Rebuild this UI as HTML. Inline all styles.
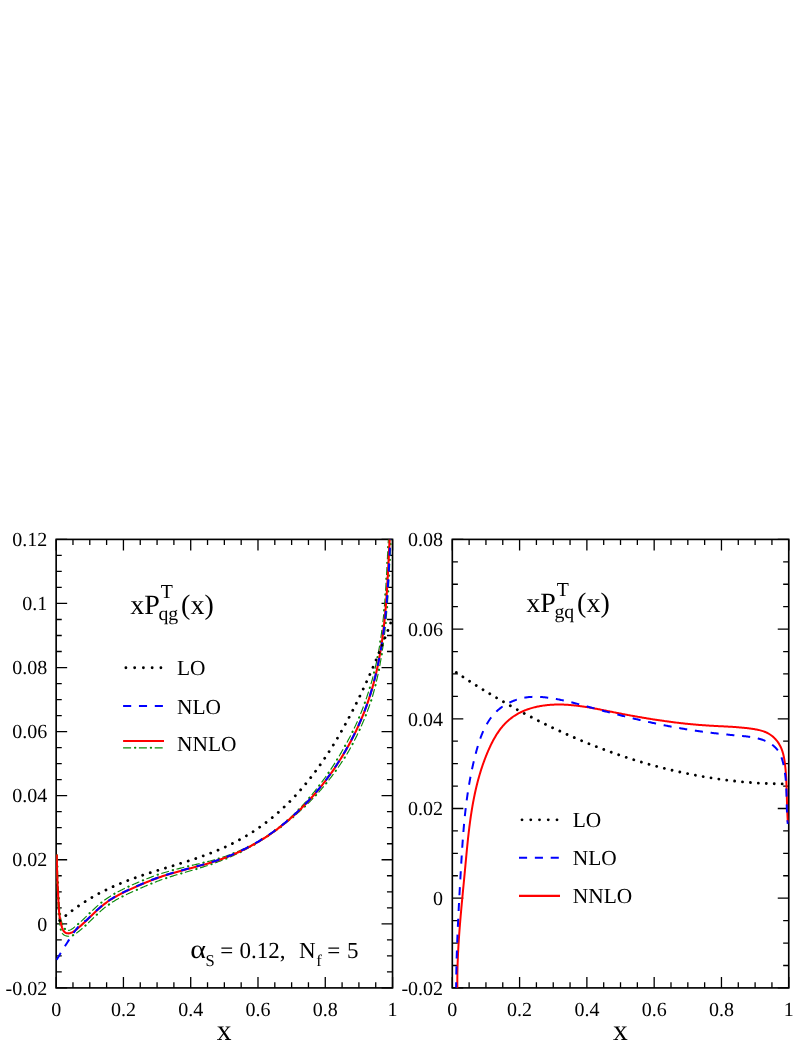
<!DOCTYPE html>
<html><head><meta charset="utf-8"><title>Timelike splitting functions</title>
<style>html,body{margin:0;padding:0;background:#fff}body{width:807px;height:1044px;overflow:hidden;font-family:"Liberation Serif",serif}svg{display:block;will-change:transform}text{text-rendering:geometricPrecision}</style></head>
<body>
<svg width="807" height="1044" viewBox="0 0 807 1044">
<rect width="807" height="1044" fill="#fff"/>
<defs>
<clipPath id="cl"><rect x="56.15" y="539.4" width="336.4" height="448.5"/></clipPath>
<clipPath id="cr"><rect x="452.3" y="539.4" width="336.45" height="448.5"/></clipPath>
</defs>
<path d="M56.15 987.9L56.15 976.9 M56.15 539.4L56.15 550.4 M72.97 987.9L72.97 982.3 M72.97 539.4L72.97 545 M89.79 987.9L89.79 982.3 M89.79 539.4L89.79 545 M106.61 987.9L106.61 982.3 M106.61 539.4L106.61 545 M123.43 987.9L123.43 976.9 M123.43 539.4L123.43 550.4 M140.25 987.9L140.25 982.3 M140.25 539.4L140.25 545 M157.07 987.9L157.07 982.3 M157.07 539.4L157.07 545 M173.89 987.9L173.89 982.3 M173.89 539.4L173.89 545 M190.71 987.9L190.71 976.9 M190.71 539.4L190.71 550.4 M207.53 987.9L207.53 982.3 M207.53 539.4L207.53 545 M224.35 987.9L224.35 982.3 M224.35 539.4L224.35 545 M241.17 987.9L241.17 982.3 M241.17 539.4L241.17 545 M257.99 987.9L257.99 976.9 M257.99 539.4L257.99 550.4 M274.81 987.9L274.81 982.3 M274.81 539.4L274.81 545 M291.63 987.9L291.63 982.3 M291.63 539.4L291.63 545 M308.45 987.9L308.45 982.3 M308.45 539.4L308.45 545 M325.27 987.9L325.27 976.9 M325.27 539.4L325.27 550.4 M342.09 987.9L342.09 982.3 M342.09 539.4L342.09 545 M358.91 987.9L358.91 982.3 M358.91 539.4L358.91 545 M375.73 987.9L375.73 982.3 M375.73 539.4L375.73 545 M392.55 987.9L392.55 976.9 M392.55 539.4L392.55 550.4 M56.15 987.9L67.15 987.9 M392.55 987.9L381.55 987.9 M56.15 971.88L61.75 971.88 M392.55 971.88L386.95 971.88 M56.15 955.86L61.75 955.86 M392.55 955.86L386.95 955.86 M56.15 939.85L61.75 939.85 M392.55 939.85L386.95 939.85 M56.15 923.83L67.15 923.83 M392.55 923.83L381.55 923.83 M56.15 907.81L61.75 907.81 M392.55 907.81L386.95 907.81 M56.15 891.79L61.75 891.79 M392.55 891.79L386.95 891.79 M56.15 875.77L61.75 875.77 M392.55 875.77L386.95 875.77 M56.15 859.76L67.15 859.76 M392.55 859.76L381.55 859.76 M56.15 843.74L61.75 843.74 M392.55 843.74L386.95 843.74 M56.15 827.72L61.75 827.72 M392.55 827.72L386.95 827.72 M56.15 811.7L61.75 811.7 M392.55 811.7L386.95 811.7 M56.15 795.69L67.15 795.69 M392.55 795.69L381.55 795.69 M56.15 779.67L61.75 779.67 M392.55 779.67L386.95 779.67 M56.15 763.65L61.75 763.65 M392.55 763.65L386.95 763.65 M56.15 747.63L61.75 747.63 M392.55 747.63L386.95 747.63 M56.15 731.61L67.15 731.61 M392.55 731.61L381.55 731.61 M56.15 715.6L61.75 715.6 M392.55 715.6L386.95 715.6 M56.15 699.58L61.75 699.58 M392.55 699.58L386.95 699.58 M56.15 683.56L61.75 683.56 M392.55 683.56L386.95 683.56 M56.15 667.54L67.15 667.54 M392.55 667.54L381.55 667.54 M56.15 651.52L61.75 651.52 M392.55 651.52L386.95 651.52 M56.15 635.51L61.75 635.51 M392.55 635.51L386.95 635.51 M56.15 619.49L61.75 619.49 M392.55 619.49L386.95 619.49 M56.15 603.47L67.15 603.47 M392.55 603.47L381.55 603.47 M56.15 587.45L61.75 587.45 M392.55 587.45L386.95 587.45 M56.15 571.44L61.75 571.44 M392.55 571.44L386.95 571.44 M56.15 555.42L61.75 555.42 M392.55 555.42L386.95 555.42 M56.15 539.4L67.15 539.4 M392.55 539.4L381.55 539.4" stroke="#000" stroke-width="1.3" fill="none"/>
<rect x="56.15" y="539.4" width="336.4" height="448.5" fill="none" stroke="#000" stroke-width="1.65"/>
<path d="M452.3 987.9L452.3 976.9 M452.3 539.4L452.3 550.4 M469.12 987.9L469.12 982.3 M469.12 539.4L469.12 545 M485.94 987.9L485.94 982.3 M485.94 539.4L485.94 545 M502.77 987.9L502.77 982.3 M502.77 539.4L502.77 545 M519.59 987.9L519.59 976.9 M519.59 539.4L519.59 550.4 M536.41 987.9L536.41 982.3 M536.41 539.4L536.41 545 M553.24 987.9L553.24 982.3 M553.24 539.4L553.24 545 M570.06 987.9L570.06 982.3 M570.06 539.4L570.06 545 M586.88 987.9L586.88 976.9 M586.88 539.4L586.88 550.4 M603.7 987.9L603.7 982.3 M603.7 539.4L603.7 545 M620.52 987.9L620.52 982.3 M620.52 539.4L620.52 545 M637.35 987.9L637.35 982.3 M637.35 539.4L637.35 545 M654.17 987.9L654.17 976.9 M654.17 539.4L654.17 550.4 M670.99 987.9L670.99 982.3 M670.99 539.4L670.99 545 M687.82 987.9L687.82 982.3 M687.82 539.4L687.82 545 M704.64 987.9L704.64 982.3 M704.64 539.4L704.64 545 M721.46 987.9L721.46 976.9 M721.46 539.4L721.46 550.4 M738.28 987.9L738.28 982.3 M738.28 539.4L738.28 545 M755.11 987.9L755.11 982.3 M755.11 539.4L755.11 545 M771.93 987.9L771.93 982.3 M771.93 539.4L771.93 545 M788.75 987.9L788.75 976.9 M788.75 539.4L788.75 550.4 M452.3 987.9L463.3 987.9 M788.75 987.9L777.75 987.9 M452.3 965.48L457.9 965.48 M788.75 965.48L783.15 965.48 M452.3 943.05L457.9 943.05 M788.75 943.05L783.15 943.05 M452.3 920.62L457.9 920.62 M788.75 920.62L783.15 920.62 M452.3 898.2L463.3 898.2 M788.75 898.2L777.75 898.2 M452.3 875.77L457.9 875.77 M788.75 875.77L783.15 875.77 M452.3 853.35L457.9 853.35 M788.75 853.35L783.15 853.35 M452.3 830.92L457.9 830.92 M788.75 830.92L783.15 830.92 M452.3 808.5L463.3 808.5 M788.75 808.5L777.75 808.5 M452.3 786.08L457.9 786.08 M788.75 786.08L783.15 786.08 M452.3 763.65L457.9 763.65 M788.75 763.65L783.15 763.65 M452.3 741.22L457.9 741.22 M788.75 741.22L783.15 741.22 M452.3 718.8L463.3 718.8 M788.75 718.8L777.75 718.8 M452.3 696.38L457.9 696.38 M788.75 696.38L783.15 696.38 M452.3 673.95L457.9 673.95 M788.75 673.95L783.15 673.95 M452.3 651.53L457.9 651.53 M788.75 651.53L783.15 651.53 M452.3 629.1L463.3 629.1 M788.75 629.1L777.75 629.1 M452.3 606.67L457.9 606.67 M788.75 606.67L783.15 606.67 M452.3 584.25L457.9 584.25 M788.75 584.25L783.15 584.25 M452.3 561.83L457.9 561.83 M788.75 561.83L783.15 561.83 M452.3 539.4L463.3 539.4 M788.75 539.4L777.75 539.4" stroke="#000" stroke-width="1.3" fill="none"/>
<rect x="452.3" y="539.4" width="336.45" height="448.5" fill="none" stroke="#000" stroke-width="1.65"/>
<g clip-path="url(#cl)" fill="none" stroke-linejoin="round">
<path d="M57.31 854.61 L57.31 855.5 L57.31 856.4 L57.31 857.3 L57.32 858.2 L57.33 859.1 L57.34 859.99 L57.35 860.89 L57.36 861.79 L57.38 862.69 L57.39 863.59 L57.41 864.5 L57.43 865.4 L57.45 866.3 L57.47 867.2 L57.5 868.1 L57.52 869 L57.55 869.91 L57.58 870.81 L57.61 871.71 L57.64 872.61 L57.67 873.52 L57.7 874.42 L57.74 875.32 L57.77 876.22 L57.81 877.13 L57.84 878.03 L57.88 878.93 L57.92 879.83 L57.96 880.74 L58.01 881.64 L58.05 882.54 L58.09 883.44 L58.14 884.35 L58.18 885.25 L58.23 886.15 L58.27 887.05 L58.32 887.95 L58.37 888.85 L58.42 889.76 L58.47 890.66 L58.52 891.56 L58.57 892.46 L58.62 893.36 L58.67 894.26 L58.73 895.15 L58.78 896.05 L58.83 896.95 L58.89 897.85 L58.94 898.75 L59 899.64 L59.05 900.54 L59.11 901.44 L59.16 902.33 L59.22 903.23 L59.27 904.12 L59.33 905.01 L59.39 905.91 L59.45 906.8 L59.51 907.69 L59.57 908.58 L59.64 909.47 L59.72 910.36 L59.8 911.24 L59.88 912.13 L59.98 913.02 L60.08 913.91 L60.19 914.8 L60.31 915.69 L60.44 916.58 L60.58 917.47 L60.73 918.36 L60.92 919.24 L61.16 920.12 L61.41 921 L61.68 921.87 L61.97 922.75 L62.28 923.62 L62.61 924.48 L62.97 925.35 L63.35 926.21 L63.74 927.04 L64.17 927.83 L64.63 928.53 L65.11 929.12 L65.61 929.55 L66.06 929.83 L66.38 930.08 L66.71 930.25 L67.08 930.37 L67.5 930.45 L67.95 930.47 L68.43 930.43 L68.94 930.33 L69.45 930.19 L69.98 930.03 L70.54 929.8 L71.13 929.49 L71.76 929.11 L72.41 928.67 L73.09 928.18 L73.78 927.64 L74.49 927.09 L75.2 926.52 L75.89 925.95 L76.59 925.37 L77.28 924.79 L77.96 924.2 L78.64 923.6 L79.32 923.01 L79.99 922.4 L80.66 921.8 L81.33 921.19 L81.99 920.57 L82.65 919.95 L83.31 919.33 L83.96 918.71 L84.62 918.09 L85.27 917.46 L85.92 916.83 L86.57 916.2 L87.22 915.57 L87.87 914.94 L88.52 914.31 L89.17 913.67 L89.83 913.04 L90.48 912.41 L91.13 911.78 L91.79 911.15 L92.45 910.52 L93.11 909.89 L93.77 909.27 L94.44 908.64 L95.11 908.02 L95.78 907.41 L96.46 906.79 L97.14 906.19 L97.83 905.58 L98.52 904.98 L99.21 904.38 L99.91 903.78 L100.62 903.19 L101.33 902.61 L102.05 902.03 L102.78 901.46 L103.51 900.9 L104.25 900.34 L105 899.8 L105.75 899.26 L106.51 898.72 L107.27 898.2 L108.03 897.68 L108.81 897.18 L109.58 896.67 L110.37 896.18 L111.15 895.69 L111.94 895.21 L112.73 894.74 L113.53 894.27 L114.33 893.81 L115.13 893.35 L115.94 892.9 L116.75 892.46 L117.56 892.02 L118.38 891.58 L119.2 891.16 L120.02 890.73 L120.84 890.31 L121.66 889.9 L122.49 889.49 L123.31 889.08 L124.14 888.68 L124.97 888.28 L125.8 887.88 L126.63 887.49 L127.46 887.1 L128.3 886.71 L129.13 886.33 L129.96 885.95 L130.79 885.57 L131.62 885.19 L132.46 884.82 L133.29 884.45 L134.12 884.08 L134.95 883.71 L135.78 883.35 L136.62 883 L137.45 882.64 L138.28 882.29 L139.12 881.93 L139.95 881.58 L140.79 881.23 L141.63 880.88 L142.46 880.54 L143.3 880.19 L144.14 879.85 L144.98 879.51 L145.82 879.17 L146.66 878.83 L147.5 878.5 L148.35 878.17 L149.19 877.84 L150.04 877.51 L150.89 877.19 L151.74 876.86 L152.59 876.55 L153.44 876.23 L154.3 875.92 L155.15 875.61 L156.01 875.3 L156.87 875 L157.74 874.7 L158.6 874.4 L159.47 874.11 L160.34 873.83 L161.22 873.55 L162.09 873.28 L162.97 873.01 L163.84 872.74 L164.72 872.48 L165.6 872.21 L166.47 871.96 L167.35 871.7 L168.23 871.45 L169.11 871.2 L169.99 870.95 L170.87 870.71 L171.75 870.47 L172.63 870.23 L173.51 869.99 L174.39 869.75 L175.27 869.52 L176.15 869.29 L177.03 869.06 L177.91 868.83 L178.79 868.61 L179.67 868.38 L180.55 868.16 L181.42 867.94 L182.3 867.72 L183.18 867.5 L184.05 867.28 L184.93 867.06 L185.8 866.84 L186.68 866.63 L187.55 866.41 L188.42 866.19 L189.3 865.98 L190.17 865.78 L191.05 865.58 L191.93 865.37 L192.8 865.17 L193.68 864.97 L194.55 864.77 L195.43 864.57 L196.3 864.37 L197.17 864.16 L198.04 863.96 L198.91 863.75 L199.79 863.55 L200.66 863.34 L201.53 863.13 L202.4 862.92 L203.26 862.71 L204.13 862.5 L205 862.28 L205.87 862.07 L206.74 861.85 L207.6 861.63 L208.47 861.41 L209.33 861.19 L210.2 860.96 L211.06 860.73 L211.93 860.5 L212.79 860.27 L213.65 860.03 L214.51 859.79 L215.37 859.54 L216.23 859.3 L217.09 859.04 L217.95 858.79 L218.81 858.53 L219.66 858.26 L220.52 857.98 L221.37 857.7 L222.22 857.41 L223.07 857.13 L223.92 856.83 L224.77 856.54 L225.62 856.24 L226.47 855.93 L227.32 855.63 L228.16 855.32 L229.01 855 L229.85 854.68 L230.7 854.36 L231.54 854.04 L232.38 853.71 L233.22 853.37 L234.06 853.04 L234.9 852.7 L235.73 852.36 L236.57 852.02 L237.4 851.67 L238.24 851.32 L239.07 850.96 L239.9 850.6 L240.73 850.24 L241.56 849.88 L242.38 849.51 L243.21 849.13 L244.03 848.76 L244.85 848.38 L245.67 847.99 L246.49 847.61 L247.31 847.21 L248.12 846.82 L248.93 846.42 L249.74 846.02 L250.55 845.6 L251.35 845.18 L252.14 844.76 L252.94 844.33 L253.73 843.9 L254.53 843.46 L255.31 843.03 L256.1 842.59 L256.89 842.14 L257.67 841.69 L258.45 841.24 L259.23 840.79 L260.01 840.33 L260.78 839.87 L261.55 839.4 L262.32 838.94 L263.09 838.47 L263.85 837.99 L264.62 837.52 L265.37 837.02 L266.12 836.53 L266.87 836.03 L267.61 835.52 L268.35 835.01 L269.09 834.5 L269.83 833.99 L270.57 833.47 L271.3 832.96 L272.03 832.43 L272.76 831.91 L273.48 831.38 L274.21 830.85 L274.93 830.32 L275.65 829.78 L276.37 829.24 L277.08 828.7 L277.79 828.15 L278.5 827.61 L279.21 827.06 L279.92 826.5 L280.62 825.95 L281.32 825.39 L282.02 824.83 L282.72 824.26 L283.41 823.7 L284.1 823.13 L284.79 822.55 L285.47 821.96 L286.14 821.37 L286.81 820.78 L287.48 820.19 L288.15 819.59 L288.82 818.99 L289.48 818.39 L290.14 817.78 L290.8 817.17 L291.45 816.56 L292.11 815.95 L292.76 815.34 L293.41 814.72 L294.06 814.1 L294.7 813.48 L295.34 812.85 L295.98 812.23 L296.62 811.6 L297.26 810.97 L297.89 810.33 L298.52 809.7 L299.15 809.06 L299.77 808.41 L300.38 807.76 L301 807.11 L301.61 806.46 L302.22 805.8 L302.83 805.14 L303.43 804.48 L304.03 803.82 L304.63 803.15 L305.23 802.48 L305.83 801.82 L306.42 801.14 L307.01 800.47 L307.6 799.8 L308.19 799.12 L308.77 798.44 L309.35 797.76 L309.93 797.07 L310.51 796.39 L311.09 795.7 L311.66 795.01 L312.23 794.32 L312.8 793.63 L313.36 792.94 L313.93 792.24 L314.49 791.54 L315.05 790.84 L315.6 790.14 L316.16 789.43 L316.71 788.73 L317.26 788.02 L317.81 787.31 L318.36 786.6 L318.9 785.89 L319.45 785.18 L320 784.47 L320.54 783.76 L321.08 783.04 L321.62 782.33 L322.16 781.61 L322.69 780.89 L323.23 780.17 L323.76 779.44 L324.28 778.72 L324.81 777.99 L325.33 777.26 L325.85 776.53 L326.37 775.8 L326.89 775.07 L327.41 774.33 L327.92 773.6 L328.43 772.86 L328.94 772.12 L329.44 771.38 L329.95 770.63 L330.45 769.89 L330.95 769.14 L331.44 768.4 L331.94 767.65 L332.43 766.9 L332.92 766.14 L333.41 765.39 L333.89 764.64 L334.37 763.88 L334.85 763.12 L335.33 762.36 L335.81 761.6 L336.28 760.84 L336.75 760.07 L337.22 759.31 L337.69 758.54 L338.15 757.77 L338.61 757 L339.07 756.23 L339.53 755.46 L339.98 754.69 L340.43 753.91 L340.88 753.14 L341.33 752.36 L341.78 751.58 L342.22 750.8 L342.66 750.02 L343.1 749.24 L343.53 748.45 L343.98 747.68 L344.43 746.9 L344.88 746.12 L345.32 745.35 L345.76 744.56 L346.2 743.78 L346.64 743 L347.07 742.21 L347.5 741.43 L347.93 740.64 L348.35 739.85 L348.78 739.06 L349.2 738.27 L349.62 737.48 L350.03 736.68 L350.44 735.89 L350.85 735.09 L351.26 734.29 L351.66 733.5 L352.07 732.7 L352.47 731.89 L352.86 731.09 L353.26 730.29 L353.65 729.48 L354.04 728.67 L354.42 727.87 L354.81 727.06 L355.19 726.25 L355.57 725.44 L355.94 724.62 L356.31 723.81 L356.68 723 L357.05 722.18 L357.41 721.36 L357.78 720.54 L358.13 719.73 L358.49 718.91 L358.84 718.08 L359.19 717.26 L359.54 716.44 L359.89 715.61 L360.23 714.79 L360.57 713.96 L360.9 713.13 L361.24 712.31 L361.57 711.48 L361.9 710.65 L362.22 709.81 L362.54 708.98 L362.86 708.15 L363.18 707.31 L363.49 706.48 L363.8 705.64 L364.11 704.81 L364.41 703.97 L364.72 703.13 L365.01 702.29 L365.31 701.45 L365.6 700.61 L365.89 699.77 L366.18 698.92 L366.46 698.08 L366.75 697.23 L367.02 696.39 L367.3 695.54 L367.58 694.69 L367.86 693.85 L368.14 693.01 L368.43 692.16 L368.7 691.32 L368.98 690.47 L369.25 689.62 L369.52 688.77 L369.78 687.92 L370.05 687.07 L370.31 686.22 L370.56 685.37 L370.82 684.51 L371.07 683.66 L371.32 682.8 L371.56 681.94 L371.81 681.09 L372.05 680.23 L372.29 679.37 L372.52 678.51 L372.75 677.65 L372.98 676.79 L373.21 675.92 L373.44 675.06 L373.66 674.2 L373.88 673.33 L374.09 672.47 L374.31 671.6 L374.52 670.73 L374.73 669.87 L374.94 669 L375.14 668.13 L375.34 667.26 L375.54 666.39 L375.74 665.51 L375.94 664.64 L376.13 663.77 L376.32 662.89 L376.51 662.02 L376.69 661.15 L376.87 660.27 L377.05 659.39 L377.23 658.52 L377.41 657.64 L377.59 656.76 L377.76 655.88 L377.93 655 L378.1 654.12 L378.26 653.24 L378.43 652.36 L378.59 651.48 L378.75 650.6 L378.91 649.71 L379.06 648.83 L379.22 647.95 L379.37 647.06 L379.52 646.18 L379.67 645.29 L379.81 644.41 L379.96 643.52 L380.1 642.63 L380.24 641.74 L380.38 640.86 L380.51 639.97 L380.65 639.08 L380.78 638.19 L380.91 637.3 L381.04 636.41 L381.17 635.52 L381.29 634.63 L381.41 633.74 L381.54 632.84 L381.66 631.95 L381.78 631.06 L381.89 630.17 L382.01 629.27 L382.12 628.38 L382.23 627.48 L382.34 626.59 L382.45 625.69 L382.56 624.8 L382.67 623.9 L382.77 623.01 L382.87 622.11 L382.97 621.22 L383.07 620.32 L383.17 619.42 L383.27 618.52 L383.37 617.63 L383.46 616.73 L383.55 615.83 L383.64 614.93 L383.73 614.03 L383.81 613.14 L383.9 612.24 L383.98 611.34 L384.06 610.44 L384.14 609.54 L384.22 608.64 L384.3 607.74 L384.38 606.84 L384.45 605.94 L384.53 605.03 L384.6 604.13 L384.67 603.23 L384.75 602.33 L384.82 601.43 L384.89 600.53 L384.96 599.63 L385.02 598.73 L385.09 597.82 L385.16 596.92 L385.22 596.02 L385.29 595.12 L385.35 594.22 L385.41 593.32 L385.47 592.41 L385.54 591.51 L385.6 590.61 L385.66 589.71 L385.72 588.81 L385.77 587.9 L385.83 587 L385.89 586.1 L385.94 585.2 L386 584.29 L386.06 583.39 L386.11 582.49 L386.16 581.59 L386.22 580.69 L386.27 579.78 L386.32 578.88 L386.37 577.98 L386.43 577.08 L386.48 576.18 L386.53 575.27 L386.58 574.37 L386.63 573.47 L386.68 572.57 L386.73 571.67 L386.77 570.77 L386.82 569.87 L386.87 568.97 L386.92 568.06 L386.97 567.16 L387.01 566.26 L387.06 565.36 L387.11 564.46 L387.15 563.56 L387.2 562.66 L387.25 561.76 L387.29 560.86 L387.34 559.96 L387.38 559.07 L387.43 558.17 L387.48 557.27 L387.52 556.37 L387.57 555.47 L387.61 554.57 L387.66 553.68 L387.7 552.78 L387.75 551.88 L387.8 550.98 L387.84 550.09 L387.89 549.19 L387.93 548.29 L387.98 547.4 L388.03 546.5 L388.07 545.61 L388.12 544.71 L388.17 543.82 L388.22 542.92 L388.26 542.03 L388.31 541.14 L388.36 540.24 L388.41 539.35 L388.46 538.46 L388.51 537.56 L388.56 536.67 L388.61 535.78 L388.66 534.89 L388.71 534" stroke="#0a8a0a" stroke-width="1.15" stroke-dasharray="8 7.8"/>
<path d="M57.31 854.61 L57.31 855.5 L57.31 856.4 L57.31 857.3 L57.32 858.2 L57.33 859.1 L57.34 859.99 L57.35 860.89 L57.36 861.79 L57.38 862.69 L57.39 863.59 L57.41 864.5 L57.43 865.4 L57.45 866.3 L57.47 867.2 L57.5 868.1 L57.52 869 L57.55 869.91 L57.58 870.81 L57.61 871.71 L57.64 872.61 L57.67 873.52 L57.7 874.42 L57.74 875.32 L57.77 876.22 L57.81 877.13 L57.84 878.03 L57.88 878.93 L57.92 879.83 L57.96 880.74 L58.01 881.64 L58.05 882.54 L58.09 883.44 L58.14 884.35 L58.18 885.25 L58.23 886.15 L58.27 887.05 L58.32 887.95 L58.37 888.85 L58.42 889.76 L58.47 890.66 L58.52 891.56 L58.57 892.46 L58.62 893.36 L58.67 894.26 L58.73 895.15 L58.78 896.05 L58.83 896.95 L58.89 897.85 L58.94 898.75 L59 899.64 L59.05 900.54 L59.11 901.44 L59.16 902.33 L59.22 903.23 L59.27 904.12 L59.33 905.01 L59.39 905.91 L59.45 906.8 L59.51 907.69 L59.57 908.58 L59.64 909.47 L59.72 910.36 L59.8 911.24 L59.88 912.13 L59.98 913.02 L60.08 913.91 L60.19 914.8 L60.31 915.69 L60.44 916.58 L60.58 917.47 L60.73 918.36 L60.92 919.24 L61.16 920.12 L61.41 921 L61.68 921.87 L61.97 922.75 L62.28 923.62 L62.61 924.48 L62.97 925.35 L63.35 926.21 L63.74 927.04 L64.17 927.83 L64.63 928.53 L65.11 929.12 L65.61 929.55 L66.06 929.83 L66.38 930.08 L66.71 930.25 L67.08 930.37 L67.5 930.45 L67.95 930.47 L68.43 930.43 L68.94 930.33 L69.45 930.19 L69.98 930.03 L70.54 929.8 L71.13 929.49 L71.76 929.11 L72.41 928.67 L73.09 928.18 L73.78 927.64 L74.49 927.09 L75.2 926.52 L75.89 925.95 L76.59 925.37 L77.28 924.79 L77.96 924.2 L78.64 923.6 L79.32 923.01 L79.99 922.4 L80.66 921.8 L81.33 921.19 L81.99 920.57 L82.65 919.95 L83.31 919.33 L83.96 918.71 L84.62 918.09 L85.27 917.46 L85.92 916.83 L86.57 916.2 L87.22 915.57 L87.87 914.94 L88.52 914.31 L89.17 913.67 L89.83 913.04 L90.48 912.41 L91.13 911.78 L91.79 911.15 L92.45 910.52 L93.11 909.89 L93.77 909.27 L94.44 908.64 L95.11 908.02 L95.78 907.41 L96.46 906.79 L97.14 906.19 L97.83 905.58 L98.52 904.98 L99.21 904.38 L99.91 903.78 L100.62 903.19 L101.33 902.61 L102.05 902.03 L102.78 901.46 L103.51 900.9 L104.25 900.34 L105 899.8 L105.75 899.26 L106.51 898.72 L107.27 898.2 L108.03 897.68 L108.81 897.18 L109.58 896.67 L110.37 896.18 L111.15 895.69 L111.94 895.21 L112.73 894.74 L113.53 894.27 L114.33 893.81 L115.13 893.35 L115.94 892.9 L116.75 892.46 L117.56 892.02 L118.38 891.58 L119.2 891.16 L120.02 890.73 L120.84 890.31 L121.66 889.9 L122.49 889.49 L123.31 889.08 L124.14 888.68 L124.97 888.28 L125.8 887.88 L126.63 887.49 L127.46 887.1 L128.3 886.71 L129.13 886.33 L129.96 885.95 L130.79 885.57 L131.62 885.19 L132.46 884.82 L133.29 884.45 L134.12 884.08 L134.95 883.71 L135.78 883.35 L136.62 883 L137.45 882.64 L138.28 882.29 L139.12 881.93 L139.95 881.58 L140.79 881.23 L141.63 880.88 L142.46 880.54 L143.3 880.19 L144.14 879.85 L144.98 879.51 L145.82 879.17 L146.66 878.83 L147.5 878.5 L148.35 878.17 L149.19 877.84 L150.04 877.51 L150.89 877.19 L151.74 876.86 L152.59 876.55 L153.44 876.23 L154.3 875.92 L155.15 875.61 L156.01 875.3 L156.87 875 L157.74 874.7 L158.6 874.4 L159.47 874.11 L160.34 873.83 L161.22 873.55 L162.09 873.28 L162.97 873.01 L163.84 872.74 L164.72 872.48 L165.6 872.21 L166.47 871.96 L167.35 871.7 L168.23 871.45 L169.11 871.2 L169.99 870.95 L170.87 870.71 L171.75 870.47 L172.63 870.23 L173.51 869.99 L174.39 869.75 L175.27 869.52 L176.15 869.29 L177.03 869.06 L177.91 868.83 L178.79 868.61 L179.67 868.38 L180.55 868.16 L181.42 867.94 L182.3 867.72 L183.18 867.5 L184.05 867.28 L184.93 867.06 L185.8 866.84 L186.68 866.63 L187.55 866.41 L188.42 866.19 L189.3 865.98 L190.17 865.78 L191.05 865.58 L191.93 865.37 L192.8 865.17 L193.68 864.97 L194.55 864.77 L195.43 864.57 L196.3 864.37 L197.17 864.16 L198.04 863.96 L198.91 863.75 L199.79 863.55 L200.66 863.34 L201.53 863.13 L202.4 862.92 L203.26 862.71 L204.13 862.5 L205 862.28 L205.87 862.07 L206.74 861.85 L207.6 861.63 L208.47 861.41 L209.33 861.19 L210.2 860.96 L211.06 860.73 L211.93 860.5 L212.79 860.27 L213.65 860.03 L214.51 859.79 L215.37 859.54 L216.23 859.3 L217.09 859.04 L217.95 858.79 L218.81 858.53 L219.66 858.26 L220.52 857.98 L221.37 857.7 L222.22 857.41 L223.07 857.13 L223.92 856.83 L224.77 856.54 L225.62 856.24 L226.47 855.93 L227.32 855.63 L228.16 855.32 L229.01 855 L229.85 854.68 L230.7 854.36 L231.54 854.04 L232.38 853.71 L233.22 853.37 L234.06 853.04 L234.9 852.7 L235.73 852.36 L236.57 852.02 L237.4 851.67 L238.24 851.32 L239.07 850.96 L239.9 850.6 L240.73 850.24 L241.56 849.88 L242.38 849.51 L243.21 849.13 L244.03 848.76 L244.85 848.38 L245.67 847.99 L246.49 847.61 L247.31 847.21 L248.12 846.82 L248.93 846.42 L249.74 846.02 L250.55 845.6 L251.35 845.18 L252.14 844.76 L252.94 844.33 L253.73 843.9 L254.53 843.46 L255.31 843.03 L256.1 842.59 L256.89 842.14 L257.67 841.69 L258.45 841.24 L259.23 840.79 L260.01 840.33 L260.78 839.87 L261.55 839.4 L262.32 838.94 L263.09 838.47 L263.85 837.99 L264.62 837.52 L265.37 837.02 L266.12 836.53 L266.87 836.03 L267.61 835.52 L268.35 835.01 L269.09 834.5 L269.83 833.99 L270.57 833.47 L271.3 832.96 L272.03 832.43 L272.76 831.91 L273.48 831.38 L274.21 830.85 L274.93 830.32 L275.65 829.78 L276.37 829.24 L277.08 828.7 L277.79 828.15 L278.5 827.61 L279.21 827.06 L279.92 826.5 L280.62 825.95 L281.32 825.39 L282.02 824.83 L282.72 824.26 L283.41 823.7 L284.1 823.13 L284.79 822.55 L285.47 821.96 L286.14 821.37 L286.81 820.78 L287.48 820.19 L288.15 819.59 L288.82 818.99 L289.48 818.39 L290.14 817.78 L290.8 817.17 L291.45 816.56 L292.11 815.95 L292.76 815.34 L293.41 814.72 L294.06 814.1 L294.7 813.48 L295.34 812.85 L295.98 812.23 L296.62 811.6 L297.26 810.97 L297.89 810.33 L298.52 809.7 L299.15 809.06 L299.77 808.41 L300.38 807.76 L301 807.11 L301.61 806.46 L302.22 805.8 L302.83 805.14 L303.43 804.48 L304.03 803.82 L304.63 803.15 L305.23 802.48 L305.83 801.82 L306.42 801.14 L307.01 800.47 L307.6 799.8 L308.19 799.12 L308.77 798.44 L309.35 797.76 L309.93 797.07 L310.51 796.39 L311.09 795.7 L311.66 795.01 L312.23 794.32 L312.8 793.63 L313.36 792.94 L313.93 792.24 L314.49 791.54 L315.05 790.84 L315.6 790.14 L316.16 789.43 L316.71 788.73 L317.26 788.02 L317.81 787.31 L318.36 786.6 L318.9 785.89 L319.45 785.18 L320 784.47 L320.54 783.76 L321.08 783.04 L321.62 782.33 L322.16 781.61 L322.69 780.89 L323.23 780.17 L323.76 779.44 L324.28 778.72 L324.81 777.99 L325.33 777.26 L325.85 776.53 L326.37 775.8 L326.89 775.07 L327.41 774.33 L327.92 773.6 L328.43 772.86 L328.94 772.12 L329.44 771.38 L329.95 770.63 L330.45 769.89 L330.95 769.14 L331.44 768.4 L331.94 767.65 L332.43 766.9 L332.92 766.14 L333.41 765.39 L333.89 764.64 L334.37 763.88 L334.85 763.12 L335.33 762.36 L335.81 761.6 L336.28 760.84 L336.75 760.07 L337.22 759.31 L337.69 758.54 L338.15 757.77 L338.61 757 L339.07 756.23 L339.53 755.46 L339.98 754.69 L340.43 753.91 L340.88 753.14 L341.33 752.36 L341.78 751.58 L342.22 750.8 L342.66 750.02 L343.1 749.24 L343.53 748.45 L343.98 747.68 L344.43 746.9 L344.88 746.12 L345.32 745.35 L345.76 744.56 L346.2 743.78 L346.64 743 L347.07 742.21 L347.5 741.43 L347.93 740.64 L348.35 739.85 L348.78 739.06 L349.2 738.27 L349.62 737.48 L350.03 736.68 L350.44 735.89 L350.85 735.09 L351.26 734.29 L351.66 733.5 L352.07 732.7 L352.47 731.89 L352.86 731.09 L353.26 730.29 L353.65 729.48 L354.04 728.67 L354.42 727.87 L354.81 727.06 L355.19 726.25 L355.57 725.44 L355.94 724.62 L356.31 723.81 L356.68 723 L357.05 722.18 L357.41 721.36 L357.78 720.54 L358.13 719.73 L358.49 718.91 L358.84 718.08 L359.19 717.26 L359.54 716.44 L359.89 715.61 L360.23 714.79 L360.57 713.96 L360.9 713.13 L361.24 712.31 L361.57 711.48 L361.9 710.65 L362.22 709.81 L362.54 708.98 L362.86 708.15 L363.18 707.31 L363.49 706.48 L363.8 705.64 L364.11 704.81 L364.41 703.97 L364.72 703.13 L365.01 702.29 L365.31 701.45 L365.6 700.61 L365.89 699.77 L366.18 698.92 L366.46 698.08 L366.75 697.23 L367.02 696.39 L367.3 695.54 L367.58 694.69 L367.86 693.85 L368.14 693.01 L368.43 692.16 L368.7 691.32 L368.98 690.47 L369.25 689.62 L369.52 688.77 L369.78 687.92 L370.05 687.07 L370.31 686.22 L370.56 685.37 L370.82 684.51 L371.07 683.66 L371.32 682.8 L371.56 681.94 L371.81 681.09 L372.05 680.23 L372.29 679.37 L372.52 678.51 L372.75 677.65 L372.98 676.79 L373.21 675.92 L373.44 675.06 L373.66 674.2 L373.88 673.33 L374.09 672.47 L374.31 671.6 L374.52 670.73 L374.73 669.87 L374.94 669 L375.14 668.13 L375.34 667.26 L375.54 666.39 L375.74 665.51 L375.94 664.64 L376.13 663.77 L376.32 662.89 L376.51 662.02 L376.69 661.15 L376.87 660.27 L377.05 659.39 L377.23 658.52 L377.41 657.64 L377.59 656.76 L377.76 655.88 L377.93 655 L378.1 654.12 L378.26 653.24 L378.43 652.36 L378.59 651.48 L378.75 650.6 L378.91 649.71 L379.06 648.83 L379.22 647.95 L379.37 647.06 L379.52 646.18 L379.67 645.29 L379.81 644.41 L379.96 643.52 L380.1 642.63 L380.24 641.74 L380.38 640.86 L380.51 639.97 L380.65 639.08 L380.78 638.19 L380.91 637.3 L381.04 636.41 L381.17 635.52 L381.29 634.63 L381.41 633.74 L381.54 632.84 L381.66 631.95 L381.78 631.06 L381.89 630.17 L382.01 629.27 L382.12 628.38 L382.23 627.48 L382.34 626.59 L382.45 625.69 L382.56 624.8 L382.67 623.9 L382.77 623.01 L382.87 622.11 L382.97 621.22 L383.07 620.32 L383.17 619.42 L383.27 618.52 L383.37 617.63 L383.46 616.73 L383.55 615.83 L383.64 614.93 L383.73 614.03 L383.81 613.14 L383.9 612.24 L383.98 611.34 L384.06 610.44 L384.14 609.54 L384.22 608.64 L384.3 607.74 L384.38 606.84 L384.45 605.94 L384.53 605.03 L384.6 604.13 L384.67 603.23 L384.75 602.33 L384.82 601.43 L384.89 600.53 L384.96 599.63 L385.02 598.73 L385.09 597.82 L385.16 596.92 L385.22 596.02 L385.29 595.12 L385.35 594.22 L385.41 593.32 L385.47 592.41 L385.54 591.51 L385.6 590.61 L385.66 589.71 L385.72 588.81 L385.77 587.9 L385.83 587 L385.89 586.1 L385.94 585.2 L386 584.29 L386.06 583.39 L386.11 582.49 L386.16 581.59 L386.22 580.69 L386.27 579.78 L386.32 578.88 L386.37 577.98 L386.43 577.08 L386.48 576.18 L386.53 575.27 L386.58 574.37 L386.63 573.47 L386.68 572.57 L386.73 571.67 L386.77 570.77 L386.82 569.87 L386.87 568.97 L386.92 568.06 L386.97 567.16 L387.01 566.26 L387.06 565.36 L387.11 564.46 L387.15 563.56 L387.2 562.66 L387.25 561.76 L387.29 560.86 L387.34 559.96 L387.38 559.07 L387.43 558.17 L387.48 557.27 L387.52 556.37 L387.57 555.47 L387.61 554.57 L387.66 553.68 L387.7 552.78 L387.75 551.88 L387.8 550.98 L387.84 550.09 L387.89 549.19 L387.93 548.29 L387.98 547.4 L388.03 546.5 L388.07 545.61 L388.12 544.71 L388.17 543.82 L388.22 542.92 L388.26 542.03 L388.31 541.14 L388.36 540.24 L388.41 539.35 L388.46 538.46 L388.51 537.56 L388.56 536.67 L388.61 535.78 L388.66 534.89 L388.71 534" stroke="#0a8a0a" stroke-width="2.1" stroke-linecap="round" stroke-dasharray="0.3 15.5" stroke-dashoffset="-11.9"/>
<path d="M56.34 854.61 L56.34 855.5 L56.34 856.4 L56.35 857.3 L56.35 858.2 L56.36 859.1 L56.37 860.01 L56.38 860.91 L56.39 861.81 L56.4 862.71 L56.41 863.61 L56.43 864.51 L56.44 865.42 L56.46 866.32 L56.48 867.22 L56.5 868.13 L56.52 869.03 L56.54 869.93 L56.56 870.84 L56.59 871.74 L56.61 872.65 L56.64 873.55 L56.67 874.45 L56.69 875.36 L56.72 876.26 L56.75 877.17 L56.78 878.07 L56.81 878.97 L56.85 879.88 L56.88 880.78 L56.91 881.69 L56.95 882.59 L56.99 883.49 L57.02 884.4 L57.06 885.3 L57.1 886.2 L57.13 887.11 L57.17 888.01 L57.21 888.91 L57.25 889.81 L57.29 890.72 L57.34 891.62 L57.38 892.52 L57.42 893.42 L57.46 894.32 L57.51 895.22 L57.55 896.12 L57.59 897.02 L57.64 897.92 L57.68 898.82 L57.73 899.71 L57.77 900.61 L57.82 901.51 L57.86 902.4 L57.91 903.3 L57.95 904.2 L58 905.09 L58.05 905.98 L58.09 906.88 L58.15 907.78 L58.2 908.67 L58.26 909.57 L58.32 910.47 L58.38 911.36 L58.45 912.26 L58.53 913.17 L58.62 914.07 L58.71 914.97 L58.81 915.88 L58.91 916.79 L59.03 917.7 L59.16 918.61 L59.26 919.53 L59.36 920.46 L59.46 921.39 L59.57 922.33 L59.69 923.28 L59.81 924.23 L59.95 925.19 L60.1 926.16 L60.26 927.14 L60.44 928.14 L60.65 929.16 L60.9 930.19 L61.21 931.24 L61.61 932.3 L62.2 933.34 L63.06 934.21 L64.04 934.93 L65.11 935.49 L66.23 935.88 L67.38 936.13 L68.55 936.23 L69.72 936.19 L70.89 936.01 L72.01 935.67 L73.06 935.24 L74.05 934.73 L74.98 934.17 L75.85 933.59 L76.68 932.98 L77.46 932.38 L78.22 931.78 L78.97 931.18 L79.71 930.58 L80.45 929.97 L81.17 929.35 L81.89 928.73 L82.6 928.11 L83.31 927.49 L84.01 926.86 L84.7 926.23 L85.39 925.6 L86.08 924.96 L86.76 924.33 L87.43 923.69 L88.1 923.06 L88.77 922.42 L89.43 921.78 L90.09 921.15 L90.75 920.51 L91.4 919.87 L92.05 919.24 L92.71 918.61 L93.35 917.98 L94 917.35 L94.65 916.72 L95.29 916.1 L95.94 915.48 L96.59 914.86 L97.23 914.25 L97.88 913.64 L98.52 913.04 L99.17 912.44 L99.82 911.84 L100.47 911.26 L101.12 910.67 L101.78 910.09 L102.44 909.52 L103.1 908.96 L103.77 908.41 L104.44 907.86 L105.11 907.32 L105.79 906.78 L106.47 906.26 L107.15 905.74 L107.85 905.23 L108.54 904.73 L109.25 904.23 L109.96 903.74 L110.67 903.26 L111.4 902.78 L112.12 902.31 L112.86 901.85 L113.6 901.39 L114.34 900.94 L115.09 900.49 L115.85 900.05 L116.61 899.61 L117.37 899.18 L118.14 898.76 L118.91 898.34 L119.69 897.92 L120.47 897.51 L121.26 897.1 L122.05 896.69 L122.84 896.29 L123.64 895.9 L124.44 895.5 L125.24 895.11 L126.04 894.73 L126.85 894.34 L127.66 893.96 L128.47 893.59 L129.29 893.21 L130.11 892.84 L130.92 892.47 L131.74 892.1 L132.57 891.74 L133.39 891.37 L134.21 891.01 L135.04 890.65 L135.86 890.29 L136.69 889.93 L137.52 889.57 L138.34 889.2 L139.16 888.83 L139.98 888.47 L140.8 888.11 L141.62 887.74 L142.44 887.38 L143.26 887.03 L144.08 886.67 L144.9 886.32 L145.72 885.96 L146.54 885.61 L147.36 885.27 L148.18 884.92 L149 884.58 L149.82 884.24 L150.64 883.9 L151.46 883.56 L152.29 883.23 L153.11 882.9 L153.94 882.58 L154.76 882.25 L155.59 881.93 L156.42 881.61 L157.25 881.3 L158.08 880.99 L158.91 880.68 L159.74 880.38 L160.58 880.07 L161.42 879.77 L162.25 879.47 L163.09 879.18 L163.94 878.88 L164.78 878.59 L165.63 878.3 L166.47 878.02 L167.32 877.73 L168.18 877.45 L169.03 877.18 L169.88 876.9 L170.74 876.63 L171.59 876.36 L172.45 876.09 L173.31 875.83 L174.17 875.56 L175.03 875.3 L175.89 875.04 L176.75 874.78 L177.61 874.53 L178.48 874.27 L179.34 874.02 L180.2 873.77 L181.07 873.52 L181.93 873.27 L182.79 873.02 L183.66 872.77 L184.52 872.53 L185.39 872.28 L186.25 872.03 L187.12 871.79 L187.98 871.54 L188.85 871.3 L189.71 871.06 L190.58 870.81 L191.44 870.55 L192.3 870.29 L193.16 870.03 L194.02 869.77 L194.89 869.51 L195.75 869.25 L196.61 868.98 L197.47 868.72 L198.33 868.46 L199.19 868.19 L200.05 867.92 L200.92 867.66 L201.78 867.39 L202.64 867.12 L203.5 866.84 L204.36 866.57 L205.21 866.29 L206.07 866.01 L206.93 865.73 L207.79 865.44 L208.64 865.15 L209.5 864.86 L210.35 864.57 L211.21 864.27 L212.06 863.98 L212.92 863.68 L213.77 863.37 L214.62 863.07 L215.47 862.76 L216.32 862.44 L217.17 862.13 L218.02 861.81 L218.87 861.48 L219.72 861.16 L220.57 860.84 L221.42 860.52 L222.27 860.19 L223.11 859.86 L223.96 859.53 L224.81 859.19 L225.65 858.85 L226.49 858.5 L227.33 858.15 L228.17 857.8 L229.01 857.44 L229.85 857.08 L230.68 856.72 L231.52 856.35 L232.35 855.98 L233.18 855.61 L234.01 855.23 L234.84 854.85 L235.67 854.46 L236.49 854.07 L237.31 853.68 L238.13 853.28 L238.95 852.88 L239.77 852.47 L240.58 852.06 L241.4 851.65 L242.21 851.24 L243.02 850.82 L243.83 850.4 L244.63 849.97 L245.44 849.54 L246.24 849.11 L247.04 848.68 L247.83 848.24 L248.63 847.8 L249.42 847.35 L250.21 846.9 L251.01 846.47 L251.8 846.02 L252.6 845.58 L253.38 845.13 L254.17 844.68 L254.96 844.22 L255.74 843.77 L256.52 843.31 L257.3 842.84 L258.07 842.37 L258.84 841.9 L259.62 841.43 L260.38 840.95 L261.15 840.47 L261.91 839.99 L262.67 839.5 L263.43 839.01 L264.19 838.52 L264.94 838.02 L265.7 837.54 L266.46 837.05 L267.22 836.56 L267.98 836.07 L268.73 835.57 L269.48 835.07 L270.23 834.57 L270.97 834.06 L271.72 833.55 L272.46 833.04 L273.2 832.53 L273.94 832.01 L274.67 831.49 L275.4 830.97 L276.13 830.44 L276.86 829.91 L277.59 829.38 L278.31 828.84 L279.03 828.3 L279.75 827.76 L280.47 827.22 L281.18 826.67 L281.9 826.12 L282.61 825.57 L283.32 825.01 L284.02 824.45 L284.73 823.89 L285.43 823.33 L286.14 822.78 L286.85 822.22 L287.55 821.66 L288.25 821.1 L288.95 820.53 L289.65 819.96 L290.35 819.39 L291.04 818.81 L291.74 818.24 L292.43 817.66 L293.11 817.07 L293.8 816.49 L294.48 815.9 L295.16 815.31 L295.84 814.72 L296.52 814.12 L297.19 813.52 L297.87 812.92 L298.54 812.32 L299.2 811.71 L299.87 811.1 L300.53 810.49 L301.2 809.88 L301.87 809.27 L302.53 808.66 L303.19 808.04 L303.86 807.42 L304.51 806.8 L305.17 806.18 L305.82 805.55 L306.47 804.93 L307.12 804.3 L307.77 803.66 L308.42 803.03 L309.06 802.39 L309.7 801.75 L310.34 801.1 L310.97 800.46 L311.61 799.81 L312.24 799.16 L312.87 798.51 L313.49 797.85 L314.12 797.2 L314.74 796.54 L315.36 795.87 L315.98 795.21 L316.6 794.54 L317.21 793.87 L317.82 793.2 L318.43 792.53 L319.04 791.85 L319.64 791.17 L320.25 790.49 L320.85 789.81 L321.45 789.12 L322.04 788.43 L322.62 787.74 L323.21 787.04 L323.79 786.34 L324.37 785.64 L324.95 784.94 L325.52 784.23 L326.1 783.52 L326.67 782.81 L327.24 782.1 L327.8 781.39 L328.37 780.67 L328.93 779.96 L329.49 779.24 L330.05 778.52 L330.6 777.79 L331.16 777.07 L331.71 776.34 L332.26 775.61 L332.8 774.88 L333.35 774.15 L333.89 773.41 L334.43 772.68 L334.97 771.94 L335.5 771.2 L336.03 770.46 L336.56 769.71 L337.09 768.97 L337.62 768.22 L338.14 767.47 L338.66 766.72 L339.18 765.97 L339.69 765.22 L340.21 764.46 L340.72 763.7 L341.23 762.94 L341.73 762.18 L342.24 761.42 L342.74 760.65 L343.24 759.89 L343.73 759.12 L344.23 758.35 L344.72 757.58 L345.21 756.8 L345.69 756.03 L346.18 755.25 L346.66 754.48 L347.14 753.7 L347.61 752.91 L348.09 752.13 L348.56 751.35 L349.01 750.55 L349.46 749.75 L349.9 748.95 L350.34 748.15 L350.78 747.35 L351.22 746.55 L351.66 745.74 L352.09 744.94 L352.52 744.13 L352.95 743.32 L353.37 742.51 L353.79 741.7 L354.21 740.89 L354.63 740.07 L355.04 739.26 L355.46 738.44 L355.87 737.63 L356.27 736.81 L356.68 735.99 L357.08 735.17 L357.47 734.34 L357.87 733.52 L358.26 732.7 L358.65 731.87 L359.04 731.04 L359.43 730.22 L359.81 729.39 L360.19 728.56 L360.57 727.72 L360.94 726.89 L361.31 726.06 L361.68 725.22 L362.05 724.39 L362.41 723.55 L362.77 722.71 L363.13 721.87 L363.48 721.03 L363.83 720.19 L364.18 719.35 L364.53 718.51 L364.87 717.66 L365.21 716.82 L365.55 715.97 L365.89 715.12 L366.22 714.27 L366.55 713.43 L366.88 712.58 L367.2 711.72 L367.52 710.87 L367.84 710.02 L368.15 709.17 L368.47 708.31 L368.77 707.46 L369.08 706.6 L369.38 705.74 L369.69 704.88 L369.98 704.02 L370.28 703.16 L370.57 702.3 L370.86 701.44 L371.14 700.58 L371.43 699.72 L371.71 698.85 L371.98 697.99 L372.26 697.12 L372.53 696.26 L372.78 695.38 L373.03 694.51 L373.27 693.64 L373.52 692.76 L373.76 691.89 L374 691.02 L374.23 690.14 L374.46 689.27 L374.69 688.39 L374.92 687.51 L375.15 686.64 L375.37 685.76 L375.59 684.88 L375.81 684 L376.02 683.12 L376.23 682.24 L376.44 681.36 L376.65 680.48 L376.86 679.6 L377.06 678.72 L377.26 677.84 L377.46 676.95 L377.65 676.07 L377.85 675.19 L378.04 674.3 L378.23 673.42 L378.41 672.53 L378.6 671.65 L378.78 670.76 L378.96 669.88 L379.14 668.99 L379.31 668.1 L379.49 667.22 L379.66 666.33 L379.83 665.44 L380 664.55 L380.16 663.66 L380.32 662.77 L380.48 661.88 L380.64 660.99 L380.8 660.1 L380.95 659.21 L381.11 658.32 L381.26 657.43 L381.4 656.54 L381.55 655.65 L381.69 654.75 L381.84 653.86 L381.98 652.97 L382.12 652.07 L382.25 651.18 L382.39 650.28 L382.52 649.39 L382.65 648.49 L382.78 647.6 L382.91 646.7 L383.04 645.81 L383.16 644.91 L383.28 644.01 L383.4 643.12 L383.52 642.22 L383.64 641.32 L383.76 640.42 L383.87 639.52 L383.99 638.63 L384.1 637.73 L384.21 636.83 L384.32 635.93 L384.42 635.03 L384.53 634.13 L384.63 633.23 L384.73 632.33 L384.84 631.43 L384.93 630.53 L385.03 629.63 L385.13 628.73 L385.23 627.83 L385.32 626.93 L385.41 626.02 L385.5 625.12 L385.59 624.22 L385.68 623.32 L385.77 622.42 L385.86 621.51 L385.94 620.61 L386.03 619.71 L386.11 618.81 L386.19 617.9 L386.27 617 L386.35 616.1 L386.43 615.19 L386.51 614.29 L386.59 613.39 L386.67 612.48 L386.75 611.58 L386.82 610.68 L386.9 609.77 L386.97 608.87 L387.05 607.97 L387.12 607.06 L387.19 606.16 L387.26 605.25 L387.33 604.35 L387.4 603.44 L387.46 602.54 L387.53 601.64 L387.6 600.73 L387.66 599.83 L387.72 598.92 L387.79 598.02 L387.85 597.11 L387.91 596.21 L387.97 595.3 L388.03 594.4 L388.09 593.49 L388.15 592.59 L388.21 591.69 L388.26 590.78 L388.32 589.88 L388.37 588.97 L388.43 588.07 L388.48 587.16 L388.54 586.26 L388.59 585.36 L388.64 584.45 L388.69 583.55 L388.74 582.64 L388.79 581.74 L388.84 580.84 L388.89 579.93 L388.94 579.03 L388.99 578.12 L389.04 577.22 L389.09 576.32 L389.13 575.42 L389.18 574.51 L389.23 573.61 L389.27 572.71 L389.32 571.8 L389.37 570.9 L389.41 570 L389.46 569.1 L389.5 568.2 L389.55 567.3 L389.59 566.39 L389.63 565.49 L389.68 564.59 L389.72 563.69 L389.76 562.79 L389.81 561.89 L389.85 560.99 L389.89 560.09 L389.94 559.19 L389.98 558.29 L390.02 557.39 L390.07 556.49 L390.11 555.6 L390.15 554.7 L390.19 553.8 L390.24 552.9 L390.28 552.01 L390.32 551.11 L390.37 550.21 L390.41 549.32 L390.45 548.42 L390.5 547.52 L390.54 546.63 L390.58 545.73 L390.63 544.84 L390.67 543.95 L390.72 543.05 L390.76 542.16 L390.8 541.27 L390.85 540.37 L390.9 539.48 L390.94 538.59 L390.99 537.7 L391.03 536.81 L391.08 535.92 L391.13 535.03 L391.18 534.14" stroke="#0a8a0a" stroke-width="1.15" stroke-dasharray="8 7.8"/>
<path d="M56.34 854.61 L56.34 855.5 L56.34 856.4 L56.35 857.3 L56.35 858.2 L56.36 859.1 L56.37 860.01 L56.38 860.91 L56.39 861.81 L56.4 862.71 L56.41 863.61 L56.43 864.51 L56.44 865.42 L56.46 866.32 L56.48 867.22 L56.5 868.13 L56.52 869.03 L56.54 869.93 L56.56 870.84 L56.59 871.74 L56.61 872.65 L56.64 873.55 L56.67 874.45 L56.69 875.36 L56.72 876.26 L56.75 877.17 L56.78 878.07 L56.81 878.97 L56.85 879.88 L56.88 880.78 L56.91 881.69 L56.95 882.59 L56.99 883.49 L57.02 884.4 L57.06 885.3 L57.1 886.2 L57.13 887.11 L57.17 888.01 L57.21 888.91 L57.25 889.81 L57.29 890.72 L57.34 891.62 L57.38 892.52 L57.42 893.42 L57.46 894.32 L57.51 895.22 L57.55 896.12 L57.59 897.02 L57.64 897.92 L57.68 898.82 L57.73 899.71 L57.77 900.61 L57.82 901.51 L57.86 902.4 L57.91 903.3 L57.95 904.2 L58 905.09 L58.05 905.98 L58.09 906.88 L58.15 907.78 L58.2 908.67 L58.26 909.57 L58.32 910.47 L58.38 911.36 L58.45 912.26 L58.53 913.17 L58.62 914.07 L58.71 914.97 L58.81 915.88 L58.91 916.79 L59.03 917.7 L59.16 918.61 L59.26 919.53 L59.36 920.46 L59.46 921.39 L59.57 922.33 L59.69 923.28 L59.81 924.23 L59.95 925.19 L60.1 926.16 L60.26 927.14 L60.44 928.14 L60.65 929.16 L60.9 930.19 L61.21 931.24 L61.61 932.3 L62.2 933.34 L63.06 934.21 L64.04 934.93 L65.11 935.49 L66.23 935.88 L67.38 936.13 L68.55 936.23 L69.72 936.19 L70.89 936.01 L72.01 935.67 L73.06 935.24 L74.05 934.73 L74.98 934.17 L75.85 933.59 L76.68 932.98 L77.46 932.38 L78.22 931.78 L78.97 931.18 L79.71 930.58 L80.45 929.97 L81.17 929.35 L81.89 928.73 L82.6 928.11 L83.31 927.49 L84.01 926.86 L84.7 926.23 L85.39 925.6 L86.08 924.96 L86.76 924.33 L87.43 923.69 L88.1 923.06 L88.77 922.42 L89.43 921.78 L90.09 921.15 L90.75 920.51 L91.4 919.87 L92.05 919.24 L92.71 918.61 L93.35 917.98 L94 917.35 L94.65 916.72 L95.29 916.1 L95.94 915.48 L96.59 914.86 L97.23 914.25 L97.88 913.64 L98.52 913.04 L99.17 912.44 L99.82 911.84 L100.47 911.26 L101.12 910.67 L101.78 910.09 L102.44 909.52 L103.1 908.96 L103.77 908.41 L104.44 907.86 L105.11 907.32 L105.79 906.78 L106.47 906.26 L107.15 905.74 L107.85 905.23 L108.54 904.73 L109.25 904.23 L109.96 903.74 L110.67 903.26 L111.4 902.78 L112.12 902.31 L112.86 901.85 L113.6 901.39 L114.34 900.94 L115.09 900.49 L115.85 900.05 L116.61 899.61 L117.37 899.18 L118.14 898.76 L118.91 898.34 L119.69 897.92 L120.47 897.51 L121.26 897.1 L122.05 896.69 L122.84 896.29 L123.64 895.9 L124.44 895.5 L125.24 895.11 L126.04 894.73 L126.85 894.34 L127.66 893.96 L128.47 893.59 L129.29 893.21 L130.11 892.84 L130.92 892.47 L131.74 892.1 L132.57 891.74 L133.39 891.37 L134.21 891.01 L135.04 890.65 L135.86 890.29 L136.69 889.93 L137.52 889.57 L138.34 889.2 L139.16 888.83 L139.98 888.47 L140.8 888.11 L141.62 887.74 L142.44 887.38 L143.26 887.03 L144.08 886.67 L144.9 886.32 L145.72 885.96 L146.54 885.61 L147.36 885.27 L148.18 884.92 L149 884.58 L149.82 884.24 L150.64 883.9 L151.46 883.56 L152.29 883.23 L153.11 882.9 L153.94 882.58 L154.76 882.25 L155.59 881.93 L156.42 881.61 L157.25 881.3 L158.08 880.99 L158.91 880.68 L159.74 880.38 L160.58 880.07 L161.42 879.77 L162.25 879.47 L163.09 879.18 L163.94 878.88 L164.78 878.59 L165.63 878.3 L166.47 878.02 L167.32 877.73 L168.18 877.45 L169.03 877.18 L169.88 876.9 L170.74 876.63 L171.59 876.36 L172.45 876.09 L173.31 875.83 L174.17 875.56 L175.03 875.3 L175.89 875.04 L176.75 874.78 L177.61 874.53 L178.48 874.27 L179.34 874.02 L180.2 873.77 L181.07 873.52 L181.93 873.27 L182.79 873.02 L183.66 872.77 L184.52 872.53 L185.39 872.28 L186.25 872.03 L187.12 871.79 L187.98 871.54 L188.85 871.3 L189.71 871.06 L190.58 870.81 L191.44 870.55 L192.3 870.29 L193.16 870.03 L194.02 869.77 L194.89 869.51 L195.75 869.25 L196.61 868.98 L197.47 868.72 L198.33 868.46 L199.19 868.19 L200.05 867.92 L200.92 867.66 L201.78 867.39 L202.64 867.12 L203.5 866.84 L204.36 866.57 L205.21 866.29 L206.07 866.01 L206.93 865.73 L207.79 865.44 L208.64 865.15 L209.5 864.86 L210.35 864.57 L211.21 864.27 L212.06 863.98 L212.92 863.68 L213.77 863.37 L214.62 863.07 L215.47 862.76 L216.32 862.44 L217.17 862.13 L218.02 861.81 L218.87 861.48 L219.72 861.16 L220.57 860.84 L221.42 860.52 L222.27 860.19 L223.11 859.86 L223.96 859.53 L224.81 859.19 L225.65 858.85 L226.49 858.5 L227.33 858.15 L228.17 857.8 L229.01 857.44 L229.85 857.08 L230.68 856.72 L231.52 856.35 L232.35 855.98 L233.18 855.61 L234.01 855.23 L234.84 854.85 L235.67 854.46 L236.49 854.07 L237.31 853.68 L238.13 853.28 L238.95 852.88 L239.77 852.47 L240.58 852.06 L241.4 851.65 L242.21 851.24 L243.02 850.82 L243.83 850.4 L244.63 849.97 L245.44 849.54 L246.24 849.11 L247.04 848.68 L247.83 848.24 L248.63 847.8 L249.42 847.35 L250.21 846.9 L251.01 846.47 L251.8 846.02 L252.6 845.58 L253.38 845.13 L254.17 844.68 L254.96 844.22 L255.74 843.77 L256.52 843.31 L257.3 842.84 L258.07 842.37 L258.84 841.9 L259.62 841.43 L260.38 840.95 L261.15 840.47 L261.91 839.99 L262.67 839.5 L263.43 839.01 L264.19 838.52 L264.94 838.02 L265.7 837.54 L266.46 837.05 L267.22 836.56 L267.98 836.07 L268.73 835.57 L269.48 835.07 L270.23 834.57 L270.97 834.06 L271.72 833.55 L272.46 833.04 L273.2 832.53 L273.94 832.01 L274.67 831.49 L275.4 830.97 L276.13 830.44 L276.86 829.91 L277.59 829.38 L278.31 828.84 L279.03 828.3 L279.75 827.76 L280.47 827.22 L281.18 826.67 L281.9 826.12 L282.61 825.57 L283.32 825.01 L284.02 824.45 L284.73 823.89 L285.43 823.33 L286.14 822.78 L286.85 822.22 L287.55 821.66 L288.25 821.1 L288.95 820.53 L289.65 819.96 L290.35 819.39 L291.04 818.81 L291.74 818.24 L292.43 817.66 L293.11 817.07 L293.8 816.49 L294.48 815.9 L295.16 815.31 L295.84 814.72 L296.52 814.12 L297.19 813.52 L297.87 812.92 L298.54 812.32 L299.2 811.71 L299.87 811.1 L300.53 810.49 L301.2 809.88 L301.87 809.27 L302.53 808.66 L303.19 808.04 L303.86 807.42 L304.51 806.8 L305.17 806.18 L305.82 805.55 L306.47 804.93 L307.12 804.3 L307.77 803.66 L308.42 803.03 L309.06 802.39 L309.7 801.75 L310.34 801.1 L310.97 800.46 L311.61 799.81 L312.24 799.16 L312.87 798.51 L313.49 797.85 L314.12 797.2 L314.74 796.54 L315.36 795.87 L315.98 795.21 L316.6 794.54 L317.21 793.87 L317.82 793.2 L318.43 792.53 L319.04 791.85 L319.64 791.17 L320.25 790.49 L320.85 789.81 L321.45 789.12 L322.04 788.43 L322.62 787.74 L323.21 787.04 L323.79 786.34 L324.37 785.64 L324.95 784.94 L325.52 784.23 L326.1 783.52 L326.67 782.81 L327.24 782.1 L327.8 781.39 L328.37 780.67 L328.93 779.96 L329.49 779.24 L330.05 778.52 L330.6 777.79 L331.16 777.07 L331.71 776.34 L332.26 775.61 L332.8 774.88 L333.35 774.15 L333.89 773.41 L334.43 772.68 L334.97 771.94 L335.5 771.2 L336.03 770.46 L336.56 769.71 L337.09 768.97 L337.62 768.22 L338.14 767.47 L338.66 766.72 L339.18 765.97 L339.69 765.22 L340.21 764.46 L340.72 763.7 L341.23 762.94 L341.73 762.18 L342.24 761.42 L342.74 760.65 L343.24 759.89 L343.73 759.12 L344.23 758.35 L344.72 757.58 L345.21 756.8 L345.69 756.03 L346.18 755.25 L346.66 754.48 L347.14 753.7 L347.61 752.91 L348.09 752.13 L348.56 751.35 L349.01 750.55 L349.46 749.75 L349.9 748.95 L350.34 748.15 L350.78 747.35 L351.22 746.55 L351.66 745.74 L352.09 744.94 L352.52 744.13 L352.95 743.32 L353.37 742.51 L353.79 741.7 L354.21 740.89 L354.63 740.07 L355.04 739.26 L355.46 738.44 L355.87 737.63 L356.27 736.81 L356.68 735.99 L357.08 735.17 L357.47 734.34 L357.87 733.52 L358.26 732.7 L358.65 731.87 L359.04 731.04 L359.43 730.22 L359.81 729.39 L360.19 728.56 L360.57 727.72 L360.94 726.89 L361.31 726.06 L361.68 725.22 L362.05 724.39 L362.41 723.55 L362.77 722.71 L363.13 721.87 L363.48 721.03 L363.83 720.19 L364.18 719.35 L364.53 718.51 L364.87 717.66 L365.21 716.82 L365.55 715.97 L365.89 715.12 L366.22 714.27 L366.55 713.43 L366.88 712.58 L367.2 711.72 L367.52 710.87 L367.84 710.02 L368.15 709.17 L368.47 708.31 L368.77 707.46 L369.08 706.6 L369.38 705.74 L369.69 704.88 L369.98 704.02 L370.28 703.16 L370.57 702.3 L370.86 701.44 L371.14 700.58 L371.43 699.72 L371.71 698.85 L371.98 697.99 L372.26 697.12 L372.53 696.26 L372.78 695.38 L373.03 694.51 L373.27 693.64 L373.52 692.76 L373.76 691.89 L374 691.02 L374.23 690.14 L374.46 689.27 L374.69 688.39 L374.92 687.51 L375.15 686.64 L375.37 685.76 L375.59 684.88 L375.81 684 L376.02 683.12 L376.23 682.24 L376.44 681.36 L376.65 680.48 L376.86 679.6 L377.06 678.72 L377.26 677.84 L377.46 676.95 L377.65 676.07 L377.85 675.19 L378.04 674.3 L378.23 673.42 L378.41 672.53 L378.6 671.65 L378.78 670.76 L378.96 669.88 L379.14 668.99 L379.31 668.1 L379.49 667.22 L379.66 666.33 L379.83 665.44 L380 664.55 L380.16 663.66 L380.32 662.77 L380.48 661.88 L380.64 660.99 L380.8 660.1 L380.95 659.21 L381.11 658.32 L381.26 657.43 L381.4 656.54 L381.55 655.65 L381.69 654.75 L381.84 653.86 L381.98 652.97 L382.12 652.07 L382.25 651.18 L382.39 650.28 L382.52 649.39 L382.65 648.49 L382.78 647.6 L382.91 646.7 L383.04 645.81 L383.16 644.91 L383.28 644.01 L383.4 643.12 L383.52 642.22 L383.64 641.32 L383.76 640.42 L383.87 639.52 L383.99 638.63 L384.1 637.73 L384.21 636.83 L384.32 635.93 L384.42 635.03 L384.53 634.13 L384.63 633.23 L384.73 632.33 L384.84 631.43 L384.93 630.53 L385.03 629.63 L385.13 628.73 L385.23 627.83 L385.32 626.93 L385.41 626.02 L385.5 625.12 L385.59 624.22 L385.68 623.32 L385.77 622.42 L385.86 621.51 L385.94 620.61 L386.03 619.71 L386.11 618.81 L386.19 617.9 L386.27 617 L386.35 616.1 L386.43 615.19 L386.51 614.29 L386.59 613.39 L386.67 612.48 L386.75 611.58 L386.82 610.68 L386.9 609.77 L386.97 608.87 L387.05 607.97 L387.12 607.06 L387.19 606.16 L387.26 605.25 L387.33 604.35 L387.4 603.44 L387.46 602.54 L387.53 601.64 L387.6 600.73 L387.66 599.83 L387.72 598.92 L387.79 598.02 L387.85 597.11 L387.91 596.21 L387.97 595.3 L388.03 594.4 L388.09 593.49 L388.15 592.59 L388.21 591.69 L388.26 590.78 L388.32 589.88 L388.37 588.97 L388.43 588.07 L388.48 587.16 L388.54 586.26 L388.59 585.36 L388.64 584.45 L388.69 583.55 L388.74 582.64 L388.79 581.74 L388.84 580.84 L388.89 579.93 L388.94 579.03 L388.99 578.12 L389.04 577.22 L389.09 576.32 L389.13 575.42 L389.18 574.51 L389.23 573.61 L389.27 572.71 L389.32 571.8 L389.37 570.9 L389.41 570 L389.46 569.1 L389.5 568.2 L389.55 567.3 L389.59 566.39 L389.63 565.49 L389.68 564.59 L389.72 563.69 L389.76 562.79 L389.81 561.89 L389.85 560.99 L389.89 560.09 L389.94 559.19 L389.98 558.29 L390.02 557.39 L390.07 556.49 L390.11 555.6 L390.15 554.7 L390.19 553.8 L390.24 552.9 L390.28 552.01 L390.32 551.11 L390.37 550.21 L390.41 549.32 L390.45 548.42 L390.5 547.52 L390.54 546.63 L390.58 545.73 L390.63 544.84 L390.67 543.95 L390.72 543.05 L390.76 542.16 L390.8 541.27 L390.85 540.37 L390.9 539.48 L390.94 538.59 L390.99 537.7 L391.03 536.81 L391.08 535.92 L391.13 535.03 L391.18 534.14" stroke="#0a8a0a" stroke-width="2.1" stroke-linecap="round" stroke-dasharray="0.3 15.5" stroke-dashoffset="-11.9"/>
<path d="M56.82 854.61 L56.82 855.5 L56.83 856.4 L56.83 857.3 L56.84 858.2 L56.84 859.1 L56.85 860 L56.86 860.9 L56.87 861.8 L56.89 862.7 L56.9 863.6 L56.92 864.5 L56.94 865.41 L56.96 866.31 L56.98 867.21 L57 868.11 L57.02 869.02 L57.04 869.92 L57.07 870.82 L57.1 871.73 L57.12 872.63 L57.15 873.53 L57.18 874.44 L57.21 875.34 L57.25 876.24 L57.28 877.15 L57.31 878.05 L57.35 878.95 L57.39 879.86 L57.42 880.76 L57.46 881.66 L57.5 882.57 L57.54 883.47 L57.58 884.37 L57.62 885.27 L57.66 886.18 L57.7 887.08 L57.75 887.98 L57.79 888.88 L57.84 889.78 L57.88 890.69 L57.93 891.59 L57.97 892.49 L58.02 893.39 L58.07 894.29 L58.12 895.19 L58.16 896.09 L58.21 896.99 L58.26 897.88 L58.31 898.78 L58.36 899.68 L58.41 900.58 L58.46 901.47 L58.51 902.37 L58.56 903.26 L58.61 904.16 L58.66 905.05 L58.72 905.95 L58.77 906.84 L58.83 907.73 L58.89 908.62 L58.95 909.52 L59.02 910.41 L59.09 911.3 L59.17 912.2 L59.25 913.09 L59.35 913.99 L59.45 914.89 L59.56 915.78 L59.67 916.68 L59.8 917.58 L59.94 918.48 L60.09 919.38 L60.26 920.29 L60.43 921.19 L60.62 922.1 L60.83 923.01 L61.05 923.92 L61.28 924.84 L61.53 925.75 L61.8 926.67 L62.09 927.59 L62.41 928.49 L62.76 929.36 L63.16 930.18 L63.61 930.92 L64.13 931.59 L64.72 932.14 L65.38 932.59 L66.1 932.93 L66.86 933.16 L67.67 933.3 L68.49 933.33 L69.33 933.26 L70.17 933.1 L70.99 932.85 L71.8 932.52 L72.59 932.11 L73.37 931.64 L74.13 931.13 L74.88 930.58 L75.62 930.01 L76.36 929.43 L77.08 928.85 L77.8 928.26 L78.52 927.67 L79.23 927.07 L79.93 926.47 L80.62 925.86 L81.31 925.25 L82 924.63 L82.68 924.01 L83.36 923.39 L84.03 922.77 L84.7 922.14 L85.37 921.51 L86.03 920.88 L86.69 920.25 L87.35 919.62 L88.01 918.99 L88.66 918.36 L89.31 917.72 L89.96 917.09 L90.61 916.46 L91.26 915.83 L91.91 915.19 L92.56 914.57 L93.21 913.94 L93.86 913.31 L94.52 912.69 L95.17 912.07 L95.82 911.46 L96.48 910.84 L97.14 910.23 L97.8 909.63 L98.47 909.03 L99.13 908.43 L99.8 907.84 L100.48 907.25 L101.16 906.67 L101.84 906.09 L102.53 905.53 L103.22 904.96 L103.92 904.41 L104.62 903.86 L105.33 903.32 L106.05 902.79 L106.77 902.26 L107.5 901.74 L108.23 901.23 L108.97 900.73 L109.72 900.23 L110.47 899.74 L111.22 899.26 L111.98 898.79 L112.75 898.32 L113.52 897.85 L114.29 897.39 L115.07 896.94 L115.85 896.5 L116.64 896.05 L117.43 895.62 L118.22 895.19 L119.02 894.76 L119.82 894.34 L120.62 893.92 L121.43 893.51 L122.24 893.1 L123.05 892.7 L123.86 892.3 L124.68 891.9 L125.5 891.51 L126.32 891.12 L127.14 890.73 L127.96 890.35 L128.78 889.97 L129.61 889.59 L130.44 889.22 L131.26 888.84 L132.09 888.47 L132.92 888.1 L133.75 887.73 L134.58 887.37 L135.4 887 L136.23 886.64 L137.06 886.28 L137.89 885.91 L138.72 885.55 L139.54 885.2 L140.37 884.84 L141.2 884.48 L142.03 884.13 L142.85 883.78 L143.68 883.43 L144.51 883.08 L145.34 882.73 L146.17 882.39 L147 882.05 L147.83 881.71 L148.66 881.37 L149.49 881.03 L150.33 880.7 L151.16 880.37 L152 880.04 L152.84 879.72 L153.68 879.4 L154.52 879.08 L155.36 878.77 L156.2 878.45 L157.05 878.14 L157.89 877.84 L158.74 877.54 L159.59 877.24 L160.44 876.94 L161.3 876.65 L162.15 876.36 L163.01 876.08 L163.87 875.8 L164.73 875.52 L165.6 875.25 L166.46 874.97 L167.32 874.71 L168.19 874.44 L169.06 874.18 L169.93 873.91 L170.79 873.66 L171.66 873.4 L172.53 873.15 L173.4 872.89 L174.27 872.65 L175.14 872.4 L176.01 872.15 L176.88 871.91 L177.75 871.67 L178.63 871.43 L179.5 871.19 L180.37 870.95 L181.24 870.71 L182.11 870.48 L182.98 870.24 L183.85 870.01 L184.72 869.78 L185.59 869.55 L186.46 869.32 L187.33 869.08 L188.2 868.85 L189.07 868.62 L189.94 868.39 L190.81 868.16 L191.68 867.93 L192.54 867.7 L193.41 867.47 L194.28 867.24 L195.15 867.01 L196.02 866.78 L196.88 866.54 L197.75 866.31 L198.62 866.08 L199.48 865.84 L200.35 865.6 L201.22 865.36 L202.08 865.12 L202.95 864.88 L203.81 864.64 L204.67 864.39 L205.54 864.15 L206.4 863.9 L207.26 863.65 L208.12 863.39 L208.98 863.14 L209.84 862.88 L210.7 862.62 L211.56 862.35 L212.42 862.09 L213.28 861.82 L214.14 861.55 L214.99 861.27 L215.85 860.99 L216.7 860.71 L217.56 860.43 L218.41 860.14 L219.27 859.84 L220.12 859.55 L220.97 859.25 L221.82 858.94 L222.67 858.64 L223.52 858.33 L224.36 858.01 L225.21 857.69 L226.06 857.37 L226.9 857.04 L227.75 856.71 L228.59 856.38 L229.43 856.04 L230.27 855.7 L231.11 855.36 L231.94 855.01 L232.78 854.66 L233.62 854.3 L234.45 853.94 L235.28 853.58 L236.11 853.22 L236.94 852.85 L237.77 852.47 L238.59 852.1 L239.42 851.72 L240.24 851.33 L241.06 850.95 L241.88 850.56 L242.7 850.16 L243.52 849.76 L244.33 849.36 L245.14 848.96 L245.95 848.55 L246.76 848.14 L247.57 847.73 L248.38 847.31 L249.18 846.89 L249.98 846.46 L250.78 846.03 L251.57 845.6 L252.37 845.17 L253.16 844.73 L253.95 844.29 L254.74 843.84 L255.53 843.4 L256.31 842.95 L257.09 842.49 L257.87 842.03 L258.65 841.57 L259.42 841.11 L260.19 840.64 L260.96 840.17 L261.73 839.7 L262.5 839.22 L263.26 838.74 L264.02 838.26 L264.78 837.77 L265.54 837.28 L266.29 836.79 L267.04 836.29 L267.79 835.79 L268.54 835.29 L269.29 834.79 L270.03 834.28 L270.77 833.77 L271.51 833.26 L272.24 832.74 L272.98 832.22 L273.71 831.7 L274.44 831.17 L275.17 830.64 L275.89 830.11 L276.61 829.58 L277.33 829.04 L278.05 828.5 L278.77 827.96 L279.48 827.41 L280.19 826.86 L280.9 826.31 L281.61 825.75 L282.31 825.2 L283.02 824.64 L283.72 824.07 L284.41 823.51 L285.11 822.94 L285.8 822.37 L286.49 821.8 L287.18 821.22 L287.87 820.64 L288.55 820.06 L289.23 819.47 L289.91 818.89 L290.59 818.3 L291.27 817.71 L291.94 817.11 L292.61 816.51 L293.28 815.91 L293.95 815.31 L294.61 814.7 L295.27 814.1 L295.93 813.49 L296.59 812.87 L297.24 812.26 L297.9 811.64 L298.55 811.02 L299.2 810.4 L299.84 809.77 L300.48 809.15 L301.13 808.52 L301.77 807.88 L302.4 807.25 L303.04 806.61 L303.67 805.97 L304.3 805.33 L304.93 804.69 L305.55 804.04 L306.18 803.39 L306.8 802.74 L307.42 802.09 L308.04 801.43 L308.65 800.77 L309.26 800.11 L309.87 799.45 L310.48 798.78 L311.09 798.12 L311.69 797.45 L312.29 796.78 L312.89 796.1 L313.49 795.43 L314.08 794.75 L314.67 794.07 L315.26 793.39 L315.85 792.71 L316.44 792.02 L317.02 791.33 L317.6 790.64 L318.18 789.95 L318.75 789.26 L319.33 788.56 L319.9 787.86 L320.47 787.16 L321.04 786.46 L321.6 785.75 L322.17 785.05 L322.73 784.34 L323.29 783.63 L323.84 782.92 L324.4 782.21 L324.95 781.49 L325.5 780.77 L326.04 780.05 L326.59 779.33 L327.13 778.61 L327.67 777.88 L328.21 777.16 L328.75 776.43 L329.28 775.7 L329.81 774.97 L330.34 774.24 L330.87 773.5 L331.39 772.76 L331.92 772.02 L332.44 771.28 L332.96 770.54 L333.47 769.8 L333.98 769.05 L334.5 768.31 L335 767.56 L335.51 766.81 L336.01 766.05 L336.52 765.3 L337.02 764.55 L337.51 763.79 L338.01 763.03 L338.5 762.27 L338.99 761.51 L339.48 760.74 L339.96 759.98 L340.44 759.21 L340.92 758.45 L341.4 757.68 L341.88 756.91 L342.35 756.13 L342.82 755.36 L343.29 754.58 L343.75 753.81 L344.22 753.03 L344.68 752.25 L345.14 751.47 L345.59 750.68 L346.05 749.9 L346.5 749.11 L346.94 748.33 L347.39 747.54 L347.83 746.75 L348.27 745.96 L348.71 745.17 L349.15 744.37 L349.58 743.58 L350.01 742.78 L350.44 741.98 L350.86 741.18 L351.29 740.38 L351.71 739.58 L352.12 738.78 L352.54 737.97 L352.95 737.17 L353.36 736.36 L353.77 735.55 L354.17 734.74 L354.57 733.93 L354.97 733.12 L355.37 732.31 L355.76 731.49 L356.15 730.68 L356.54 729.86 L356.93 729.04 L357.31 728.22 L357.69 727.4 L358.07 726.58 L358.44 725.76 L358.81 724.93 L359.18 724.11 L359.55 723.28 L359.91 722.46 L360.27 721.63 L360.63 720.8 L360.99 719.97 L361.34 719.14 L361.69 718.31 L362.04 717.47 L362.38 716.64 L362.72 715.8 L363.06 714.97 L363.4 714.13 L363.73 713.29 L364.06 712.45 L364.39 711.61 L364.71 710.77 L365.03 709.93 L365.35 709.08 L365.67 708.24 L365.98 707.4 L366.29 706.55 L366.6 705.7 L366.9 704.86 L367.2 704.01 L367.5 703.16 L367.79 702.31 L368.09 701.46 L368.38 700.6 L368.66 699.75 L368.95 698.9 L369.23 698.04 L369.5 697.19 L369.78 696.33 L370.05 695.48 L370.32 694.62 L370.59 693.76 L370.85 692.9 L371.11 692.04 L371.37 691.18 L371.62 690.32 L371.87 689.46 L372.12 688.59 L372.37 687.73 L372.61 686.87 L372.86 686 L373.09 685.13 L373.33 684.27 L373.56 683.4 L373.79 682.53 L374.02 681.66 L374.25 680.8 L374.47 679.93 L374.69 679.05 L374.91 678.18 L375.12 677.31 L375.34 676.44 L375.55 675.57 L375.75 674.69 L375.96 673.82 L376.16 672.94 L376.36 672.07 L376.56 671.19 L376.76 670.31 L376.95 669.44 L377.14 668.56 L377.33 667.68 L377.52 666.8 L377.7 665.92 L377.88 665.04 L378.06 664.16 L378.24 663.28 L378.41 662.4 L378.59 661.51 L378.76 660.63 L378.93 659.75 L379.09 658.86 L379.26 657.98 L379.42 657.1 L379.58 656.21 L379.74 655.32 L379.9 654.44 L380.05 653.55 L380.2 652.66 L380.35 651.78 L380.5 650.89 L380.65 650 L380.79 649.11 L380.93 648.22 L381.08 647.33 L381.21 646.44 L381.35 645.55 L381.49 644.66 L381.62 643.77 L381.75 642.87 L381.88 641.98 L382.01 641.09 L382.13 640.2 L382.26 639.3 L382.38 638.41 L382.5 637.51 L382.62 636.62 L382.74 635.72 L382.86 634.83 L382.97 633.93 L383.08 633.04 L383.2 632.14 L383.31 631.24 L383.41 630.35 L383.52 629.45 L383.63 628.55 L383.73 627.66 L383.83 626.76 L383.93 625.86 L384.03 624.96 L384.13 624.06 L384.23 623.16 L384.32 622.26 L384.42 621.37 L384.51 620.47 L384.6 619.57 L384.69 618.67 L384.78 617.77 L384.86 616.86 L384.95 615.96 L385.04 615.06 L385.12 614.16 L385.2 613.26 L385.28 612.36 L385.36 611.46 L385.44 610.56 L385.52 609.65 L385.6 608.75 L385.67 607.85 L385.75 606.95 L385.82 606.05 L385.89 605.14 L385.97 604.24 L386.04 603.34 L386.11 602.44 L386.17 601.53 L386.24 600.63 L386.31 599.73 L386.37 598.82 L386.44 597.92 L386.5 597.02 L386.57 596.12 L386.63 595.21 L386.69 594.31 L386.75 593.41 L386.81 592.5 L386.87 591.6 L386.93 590.7 L386.99 589.79 L387.04 588.89 L387.1 587.99 L387.16 587.08 L387.21 586.18 L387.27 585.28 L387.32 584.37 L387.37 583.47 L387.43 582.57 L387.48 581.66 L387.53 580.76 L387.58 579.86 L387.63 578.96 L387.68 578.05 L387.73 577.15 L387.78 576.25 L387.83 575.34 L387.88 574.44 L387.93 573.54 L387.98 572.64 L388.02 571.74 L388.07 570.83 L388.12 569.93 L388.16 569.03 L388.21 568.13 L388.26 567.23 L388.3 566.33 L388.35 565.43 L388.39 564.53 L388.44 563.63 L388.48 562.73 L388.53 561.83 L388.57 560.93 L388.62 560.03 L388.66 559.13 L388.7 558.23 L388.75 557.33 L388.79 556.43 L388.84 555.53 L388.88 554.64 L388.93 553.74 L388.97 552.84 L389.02 551.94 L389.06 551.05 L389.1 550.15 L389.15 549.25 L389.19 548.36 L389.24 547.46 L389.28 546.57 L389.33 545.67 L389.37 544.78 L389.42 543.88 L389.47 542.99 L389.51 542.09 L389.56 541.2 L389.61 540.31 L389.65 539.42 L389.7 538.52 L389.75 537.63 L389.8 536.74 L389.84 535.85 L389.89 534.96 L389.94 534.07" stroke="#ff0000" stroke-width="2.1"/>
<path d="M56.61 959.8 L57.08 959.02 L57.56 958.24 L58.03 957.46 L58.5 956.68 L58.98 955.9 L59.45 955.12 L59.93 954.34 L60.4 953.56 L60.88 952.78 L61.35 952 L61.83 951.22 L62.31 950.44 L62.79 949.66 L63.27 948.88 L63.75 948.1 L64.24 947.33 L64.72 946.55 L65.21 945.78 L65.7 945 L66.19 944.23 L66.68 943.46 L67.17 942.69 L67.67 941.92 L68.16 941.15 L68.66 940.38 L69.16 939.61 L69.66 938.85 L70.17 938.08 L70.68 937.32 L71.19 936.56 L71.7 935.8 L72.21 935.04 L72.73 934.29 L73.25 933.53 L73.77 932.78 L74.3 932.03 L74.82 931.28 L75.36 930.53 L75.89 929.79 L76.44 929.06 L76.99 928.33 L77.56 927.62 L78.14 926.93 L78.75 926.25 L79.37 925.59 L80.01 924.96 L80.68 924.36 L81.37 923.78 L82.08 923.21 L82.8 922.66 L83.53 922.12 L84.27 921.59 L85 921.05 L86.03 920.63 L86.69 920 L87.35 919.37 L88.01 918.74 L88.66 918.11 L89.31 917.47 L89.96 916.84 L90.61 916.21 L91.26 915.58 L91.91 914.94 L92.56 914.32 L93.21 913.69 L93.86 913.06 L94.52 912.44 L95.17 911.82 L95.82 911.21 L96.48 910.59 L97.14 909.98 L97.8 909.38 L98.47 908.78 L99.13 908.18 L99.8 907.59 L100.48 907 L101.16 906.42 L101.84 905.84 L102.53 905.28 L103.22 904.71 L103.92 904.16 L104.62 903.61 L105.33 903.07 L106.05 902.54 L106.77 902.01 L107.5 901.49 L108.23 900.98 L108.97 900.48 L109.72 899.98 L110.47 899.49 L111.22 899.01 L111.98 898.54 L112.75 898.07 L113.52 897.6 L114.29 897.14 L115.07 896.69 L115.85 896.25 L116.64 895.8 L117.43 895.37 L118.22 894.94 L119.02 894.51 L119.82 894.09 L120.62 893.67 L121.43 893.26 L122.24 892.85 L123.05 892.45 L123.86 892.05 L124.68 891.65 L125.5 891.26 L126.32 890.87 L127.14 890.48 L127.96 890.1 L128.78 889.72 L129.61 889.34 L130.44 888.97 L131.26 888.59 L132.09 888.22 L132.92 887.85 L133.75 887.48 L134.58 887.12 L135.4 886.75 L136.23 886.39 L137.06 886.03 L137.89 885.66 L138.72 885.3 L139.54 884.95 L140.37 884.59 L141.2 884.23 L142.03 883.88 L142.85 883.53 L143.68 883.18 L144.51 882.83 L145.34 882.48 L146.17 882.14 L147 881.8 L147.83 881.46 L148.66 881.12 L149.49 880.78 L150.33 880.45 L151.16 880.12 L152 879.79 L152.84 879.47 L153.68 879.15 L154.52 878.83 L155.36 878.52 L156.2 878.2 L157.05 877.89 L157.89 877.59 L158.74 877.29 L159.59 876.99 L160.44 876.69 L161.3 876.4 L162.15 876.11 L163.01 875.83 L163.87 875.55 L164.73 875.27 L165.6 875 L166.46 874.72 L167.32 874.46 L168.19 874.19 L169.06 873.93 L169.93 873.66 L170.79 873.41 L171.66 873.15 L172.53 872.9 L173.4 872.64 L174.27 872.4 L175.14 872.15 L176.01 871.9 L176.88 871.66 L177.75 871.42 L178.63 871.18 L179.5 870.94 L180.37 870.7 L181.24 870.46 L182.11 870.23 L182.98 869.99 L183.85 869.76 L184.72 869.53 L185.59 869.3 L186.46 869.07 L187.33 868.83 L188.2 868.6 L189.07 868.37 L189.94 868.14 L190.81 867.91 L191.68 867.68 L192.54 867.45 L193.41 867.22 L194.28 866.99 L195.15 866.76 L196.02 866.53 L196.88 866.29 L197.75 866.06 L198.62 865.83 L199.48 865.59 L200.35 865.35 L201.22 865.11 L202.08 864.87 L202.95 864.63 L203.81 864.39 L204.67 864.14 L205.54 863.9 L206.4 863.65 L207.26 863.4 L208.12 863.14 L208.98 862.89 L209.84 862.63 L210.7 862.37 L211.56 862.1 L212.42 861.84 L213.28 861.57 L214.14 861.3 L214.99 861.02 L215.85 860.74 L216.7 860.46 L217.56 860.18 L218.41 859.89 L219.27 859.59 L220.12 859.3 L220.97 859 L221.82 858.69 L222.67 858.39 L223.52 858.08 L224.36 857.76 L225.21 857.44 L226.06 857.12 L226.9 856.79 L227.75 856.46 L228.59 856.13 L229.43 855.79 L230.27 855.45 L231.11 855.11 L231.94 854.76 L232.78 854.41 L233.62 854.05 L234.45 853.69 L235.28 853.33 L236.11 852.97 L236.94 852.6 L237.77 852.22 L238.59 851.85 L239.42 851.47 L240.24 851.08 L241.06 850.7 L241.88 850.31 L242.7 849.91 L243.52 849.51 L244.33 849.11 L245.14 848.71 L245.95 848.3 L246.76 847.89 L247.57 847.48 L248.38 847.06 L249.18 846.64 L249.98 846.21 L250.78 845.78 L251.57 845.35 L252.37 844.92 L253.16 844.48 L253.95 844.04 L254.74 843.59 L255.53 843.15 L256.31 842.7 L257.09 842.24 L257.87 841.78 L258.65 841.32 L259.42 840.86 L260.19 840.39 L260.96 839.92 L261.73 839.45 L262.5 838.97 L263.26 838.49 L264.02 838.01 L264.78 837.52 L265.54 837.03 L266.29 836.54 L267.04 836.04 L267.79 835.54 L268.54 835.04 L269.29 834.54 L270.03 834.03 L270.77 833.52 L271.51 833.01 L272.24 832.49 L272.98 831.97 L273.71 831.45 L274.44 830.92 L275.17 830.39 L275.89 829.86 L276.61 829.33 L277.33 828.79 L278.05 828.25 L278.77 827.71 L279.48 827.16 L280.19 826.61 L280.9 826.06 L281.61 825.5 L282.31 824.95 L283.02 824.39 L283.72 823.82 L284.41 823.26 L285.11 822.69 L285.8 822.12 L286.49 821.55 L287.18 820.97 L287.87 820.39 L288.55 819.81 L289.23 819.22 L289.91 818.64 L290.59 818.05 L291.27 817.46 L291.94 816.86 L292.61 816.26 L293.28 815.66 L293.95 815.06 L294.61 814.45 L295.27 813.85 L295.93 813.24 L296.59 812.62 L297.24 812.01 L297.9 811.39 L298.55 810.77 L299.2 810.15 L299.84 809.52 L300.48 808.9 L301.13 808.27 L301.77 807.63 L302.4 807 L303.04 806.36 L303.67 805.72 L304.3 805.08 L304.93 804.44 L305.55 803.79 L306.18 803.14 L306.8 802.49 L307.42 801.84 L308.04 801.18 L308.65 800.52 L309.26 799.86 L309.87 799.2 L310.48 798.53 L311.09 797.87 L311.69 797.2 L312.29 796.53 L312.89 795.85 L313.49 795.18 L314.08 794.5 L314.67 793.82 L315.26 793.14 L315.85 792.46 L316.44 791.77 L317.02 791.08 L317.6 790.39 L318.18 789.7 L318.75 789.01 L319.33 788.31 L319.9 787.61 L320.47 786.91 L321.04 786.21 L321.6 785.5 L322.17 784.8 L322.73 784.09 L323.29 783.38 L323.84 782.67 L324.4 781.96 L324.95 781.24 L325.5 780.52 L326.04 779.8 L326.59 779.08 L327.13 778.36 L327.67 777.63 L328.21 776.91 L328.75 776.18 L329.28 775.45 L329.81 774.72 L330.34 773.99 L330.87 773.25 L331.39 772.51 L331.92 771.77 L332.44 771.03 L332.96 770.29 L333.47 769.55 L333.98 768.8 L334.5 768.06 L335 767.31 L335.51 766.56 L336.01 765.8 L336.52 765.05 L337.02 764.3 L337.51 763.54 L338.01 762.78 L338.5 762.02 L338.99 761.26 L339.48 760.49 L339.96 759.73 L340.44 758.96 L340.92 758.2 L341.4 757.43 L341.88 756.66 L342.35 755.88 L342.82 755.11 L343.29 754.33 L343.75 753.56 L344.22 752.78 L344.68 752 L345.14 751.22 L345.59 750.43 L346.05 749.65 L346.5 748.86 L346.94 748.08 L347.39 747.29 L347.83 746.5 L348.27 745.71 L348.71 744.92 L349.15 744.12 L349.58 743.33 L350.01 742.53 L350.44 741.73 L350.86 740.93 L351.29 740.13 L351.71 739.33 L352.12 738.53 L352.54 737.72 L352.95 736.92 L353.36 736.11 L353.77 735.3 L354.17 734.49 L354.57 733.68 L354.97 732.87 L355.37 732.06 L355.76 731.24 L356.15 730.43 L356.54 729.61 L356.93 728.79 L357.31 727.97 L357.69 727.15 L358.07 726.33 L358.44 725.51 L358.81 724.68 L359.18 723.86 L359.55 723.03 L359.91 722.21 L360.27 721.38 L360.63 720.55 L360.99 719.72 L361.34 718.89 L361.69 718.06 L362.04 717.22 L362.38 716.39 L362.72 715.55 L363.06 714.72 L363.4 713.88 L363.73 713.04 L364.06 712.2 L364.39 711.36 L364.71 710.52 L365.03 709.68 L365.35 708.83 L365.67 707.99 L365.98 707.15 L366.29 706.3 L366.6 705.45 L366.9 704.61 L367.2 703.76 L367.5 702.91 L367.79 702.06 L368.09 701.21 L368.38 700.35 L368.66 699.5 L368.95 698.65 L369.23 697.79 L369.5 696.94 L369.78 696.08 L370.05 695.23 L370.32 694.37 L370.59 693.51 L370.85 692.65 L371.11 691.79 L371.37 690.93 L371.62 690.07 L371.87 689.21 L372.12 688.34 L372.37 687.48 L372.61 686.62 L372.86 685.75 L373.09 684.88 L373.33 684.02 L373.56 683.15 L373.79 682.28 L374.02 681.41 L374.25 680.55 L374.47 679.68 L374.69 678.8 L374.91 677.93 L375.12 677.06 L375.34 676.19 L375.55 675.32 L375.75 674.44 L375.96 673.57 L376.16 672.69 L376.36 671.82 L376.56 670.94 L376.76 670.06 L376.95 669.19 L377.14 668.31 L377.33 667.43 L377.52 666.55 L377.7 665.67 L377.88 664.79 L378.07 663.91 L378.26 663.03 L378.45 662.15 L378.63 661.26 L378.82 660.38 L379 659.5 L379.18 658.61 L379.36 657.73 L379.53 656.85 L379.7 655.96 L379.87 655.07 L380.04 654.19 L380.21 653.3 L380.37 652.41 L380.54 651.53 L380.7 650.64 L380.85 649.75 L381.01 648.86 L381.16 647.97 L381.31 647.08 L381.46 646.19 L381.61 645.3 L381.76 644.41 L381.9 643.52 L382.04 642.62 L382.18 641.73 L382.32 640.84 L382.46 639.95 L382.59 639.05 L382.72 638.16 L382.85 637.26 L382.98 636.37 L383.11 635.47 L383.23 634.58 L383.36 633.68 L383.48 632.79 L383.6 631.89 L383.72 630.99 L383.83 630.1 L383.95 629.2 L384.06 628.3 L384.17 627.41 L384.28 626.51 L384.39 625.61 L384.5 624.71 L384.61 623.81 L384.71 622.91 L384.81 622.01 L384.91 621.12 L385.01 620.22 L385.11 619.32 L385.21 618.42 L385.3 617.52 L385.4 616.61 L385.49 615.71 L385.58 614.81 L385.67 613.91 L385.76 613.01 L385.85 612.11 L385.94 611.21 L386.02 610.31 L386.11 609.4 L386.19 608.5 L386.27 607.6 L386.35 606.7 L386.43 605.8 L386.51 604.89 L386.58 603.99 L386.66 603.09 L386.74 602.19 L386.81 601.28 L386.88 600.38 L386.95 599.48 L387.03 598.57 L387.1 597.67 L387.16 596.77 L387.23 595.87 L387.3 594.96 L387.37 594.06 L387.43 593.16 L387.5 592.25 L387.56 591.35 L387.62 590.45 L387.69 589.54 L387.74 588.64 L387.8 587.74 L387.86 586.83 L387.91 585.93 L387.97 585.03 L388.02 584.12 L388.07 583.22 L388.13 582.32 L388.18 581.41 L388.23 580.51 L388.28 579.61 L388.33 578.71 L388.38 577.8 L388.43 576.9 L388.48 576 L388.53 575.09 L388.58 574.19 L388.63 573.29 L388.68 572.39 L388.72 571.49 L388.77 570.58 L388.82 569.68 L388.86 568.78 L388.91 567.88 L388.96 566.98 L389 566.08 L389.05 565.18 L389.09 564.28 L389.14 563.38 L389.18 562.48 L389.23 561.58 L389.27 560.68 L389.32 559.78 L389.36 558.88 L389.4 557.98 L389.45 557.08 L389.49 556.18 L389.54 555.28 L389.58 554.39 L389.63 553.49 L389.67 552.59 L389.72 551.69 L389.76 550.8 L389.8 549.9 L389.85 549 L389.89 548.11 L389.94 547.21 L389.98 546.32 L390.03 545.42 L390.07 544.53 L390.12 543.63 L390.17 542.74 L390.21 541.84 L390.26 540.95 L390.31 540.06 L390.35 539.17 L390.4 538.27 L390.45 537.38 L390.5 536.49 L390.54 535.6 L390.59 534.71 L390.64 533.82" stroke="#0000ff" stroke-width="2" stroke-dasharray="8.1 7.75"/>
<path d="M56.15 923.83 L56.99 923.07 L57.84 922.31 L58.68 921.56 L59.52 920.82 L60.37 920.09 L61.21 919.36 L62.05 918.65 L62.89 917.94 L63.74 917.23 L64.58 916.54 L65.42 915.85 L66.27 915.16 L67.11 914.49 L67.95 913.82 L68.8 913.16 L69.64 912.51 L70.48 911.86 L71.33 911.22 L72.17 910.58 L73.01 909.95 L73.86 909.33 L74.7 908.72 L75.54 908.11 L76.38 907.51 L77.23 906.91 L78.07 906.32 L78.91 905.74 L79.76 905.16 L80.6 904.59 L81.44 904.03 L82.29 903.47 L83.13 902.91 L83.97 902.37 L84.82 901.82 L85.66 901.29 L86.5 900.76 L87.34 900.23 L88.19 899.71 L89.03 899.2 L89.87 898.69 L90.72 898.19 L91.56 897.69 L92.4 897.2 L93.25 896.71 L94.09 896.23 L94.93 895.75 L95.78 895.28 L96.62 894.82 L97.46 894.35 L98.31 893.9 L99.15 893.44 L99.99 893 L100.83 892.55 L101.68 892.12 L102.52 891.68 L103.36 891.25 L104.21 890.83 L105.05 890.41 L105.89 889.99 L106.74 889.58 L107.58 889.17 L108.42 888.77 L109.27 888.37 L110.11 887.98 L110.95 887.58 L111.8 887.2 L112.64 886.81 L113.48 886.43 L114.32 886.06 L115.17 885.69 L116.01 885.32 L116.85 884.95 L117.7 884.59 L118.54 884.23 L119.38 883.88 L120.23 883.53 L121.07 883.18 L121.91 882.84 L122.76 882.49 L123.6 882.16 L124.44 881.82 L125.28 881.49 L126.13 881.16 L126.97 880.83 L127.81 880.51 L128.66 880.19 L129.5 879.87 L130.34 879.56 L131.19 879.24 L132.03 878.93 L132.87 878.62 L133.72 878.32 L134.56 878.02 L135.4 877.72 L136.25 877.42 L137.09 877.12 L137.93 876.83 L138.77 876.53 L139.62 876.24 L140.46 875.96 L141.3 875.67 L142.15 875.39 L142.99 875.1 L143.83 874.82 L144.68 874.54 L145.52 874.27 L146.36 873.99 L147.21 873.72 L148.05 873.44 L148.89 873.17 L149.73 872.9 L150.58 872.63 L151.42 872.37 L152.26 872.1 L153.11 871.83 L153.95 871.57 L154.79 871.31 L155.64 871.04 L156.48 870.78 L157.32 870.52 L158.17 870.26 L159.01 870 L159.85 869.74 L160.7 869.48 L161.54 869.23 L162.38 868.97 L163.22 868.71 L164.07 868.46 L164.91 868.2 L165.75 867.94 L166.6 867.69 L167.44 867.43 L168.28 867.18 L169.13 866.92 L169.97 866.67 L170.81 866.41 L171.66 866.15 L172.5 865.9 L173.34 865.64 L174.19 865.38 L175.03 865.13 L175.87 864.87 L176.71 864.61 L177.56 864.35 L178.4 864.09 L179.24 863.83 L180.09 863.57 L180.93 863.31 L181.77 863.05 L182.62 862.78 L183.46 862.52 L184.3 862.26 L185.15 861.99 L185.99 861.72 L186.83 861.45 L187.67 861.18 L188.52 860.91 L189.36 860.64 L190.2 860.36 L191.05 860.09 L191.89 859.81 L192.73 859.53 L193.58 859.25 L194.42 858.97 L195.26 858.68 L196.11 858.4 L196.95 858.11 L197.79 857.82 L198.64 857.53 L199.48 857.23 L200.32 856.94 L201.16 856.64 L202.01 856.34 L202.85 856.03 L203.69 855.73 L204.54 855.42 L205.38 855.11 L206.22 854.8 L207.07 854.48 L207.91 854.17 L208.75 853.84 L209.6 853.52 L210.44 853.19 L211.28 852.87 L212.12 852.53 L212.97 852.2 L213.81 851.86 L214.65 851.52 L215.5 851.17 L216.34 850.83 L217.18 850.47 L218.03 850.12 L218.87 849.76 L219.71 849.4 L220.56 849.04 L221.4 848.67 L222.24 848.3 L223.09 847.92 L223.93 847.54 L224.77 847.16 L225.61 846.77 L226.46 846.38 L227.3 845.98 L228.14 845.58 L228.99 845.18 L229.83 844.77 L230.67 844.36 L231.52 843.95 L232.36 843.53 L233.2 843.1 L234.05 842.67 L234.89 842.24 L235.73 841.8 L236.58 841.36 L237.42 840.91 L238.26 840.46 L239.1 840 L239.95 839.54 L240.79 839.07 L241.63 838.6 L242.48 838.12 L243.32 837.64 L244.16 837.15 L245.01 836.66 L245.85 836.16 L246.69 835.66 L247.54 835.15 L248.38 834.64 L249.22 834.12 L250.06 833.6 L250.91 833.07 L251.75 832.53 L252.59 831.99 L253.44 831.44 L254.28 830.89 L255.12 830.33 L255.97 829.76 L256.81 829.19 L257.65 828.61 L258.5 828.03 L259.34 827.44 L260.18 826.85 L261.03 826.24 L261.87 825.64 L262.71 825.02 L263.55 824.4 L264.4 823.77 L265.24 823.14 L266.08 822.5 L266.93 821.85 L267.77 821.19 L268.61 820.53 L269.46 819.86 L270.3 819.19 L271.14 818.51 L271.99 817.82 L272.83 817.12 L273.67 816.42 L274.51 815.71 L275.36 814.99 L276.2 814.26 L277.04 813.53 L277.89 812.79 L278.73 812.04 L279.57 811.29 L280.42 810.53 L281.26 809.75 L282.1 808.98 L282.95 808.19 L283.79 807.4 L284.63 806.59 L285.48 805.78 L286.32 804.97 L287.16 804.14 L288 803.31 L288.85 802.46 L289.69 801.61 L290.53 800.75 L291.38 799.89 L292.22 799.01 L293.06 798.13 L293.91 797.23 L294.75 796.33 L295.59 795.42 L296.44 794.5 L297.28 793.58 L298.12 792.64 L298.97 791.7 L299.81 790.74 L300.65 789.78 L301.49 788.81 L302.34 787.82 L303.18 786.83 L304.02 785.83 L304.87 784.82 L305.71 783.81 L306.55 782.78 L307.4 781.74 L308.24 780.69 L309.08 779.64 L309.93 778.57 L310.77 777.49 L311.61 776.41 L312.45 775.31 L313.3 774.21 L314.14 773.09 L314.98 771.97 L315.83 770.83 L316.67 769.68 L317.51 768.53 L318.36 767.36 L319.2 766.19 L320.04 765 L320.89 763.8 L321.73 762.6 L322.57 761.38 L323.42 760.15 L324.26 758.91 L325.1 757.66 L325.94 756.4 L326.79 755.13 L327.63 753.85 L328.47 752.55 L329.32 751.25 L330.16 749.93 L331 748.61 L331.85 747.27 L332.69 745.92 L333.53 744.56 L334.38 743.19 L335.22 741.81 L336.06 740.41 L336.9 739.01 L337.75 737.59 L338.59 736.16 L339.43 734.72 L340.28 733.27 L341.12 731.8 L341.96 730.33 L342.81 728.84 L343.65 727.34 L344.49 725.83 L345.34 724.3 L346.18 722.77 L347.02 721.22 L347.87 719.66 L348.71 718.09 L349.55 716.5 L350.39 714.91 L351.24 713.3 L352.08 711.67 L352.92 710.04 L353.77 708.39 L354.61 706.73 L355.45 705.06 L356.3 703.37 L357.14 701.67 L357.98 699.96 L358.83 698.23 L359.67 696.5 L360.51 694.74 L361.36 692.98 L362.2 691.2 L363.04 689.41 L363.88 687.61 L364.73 685.79 L365.57 683.96 L366.41 682.11 L367.26 680.26 L368.1 678.38 L368.94 676.5 L369.79 674.6 L370.63 672.69 L371.47 670.76 L372.32 668.82 L373.16 666.86 L374 664.9 L374.84 662.91 L375.69 660.92 L376.53 658.9 L377.37 656.88 L378.22 654.84 L379.06 652.78 L379.9 650.72 L380.75 648.63 L381.59 646.53 L382.43 644.42 L383.28 642.29 L384.12 640.15 L384.96 638 L385.81 635.82 L386.65 633.64 L387.49 631.44 L388.33 629.22 L389.18 626.99 L390.02 624.74 L390.86 622.48 L391.71 620.2 L392.55 617.91" stroke="#000000" stroke-width="2.85" stroke-linecap="round" stroke-dasharray="0.01 7.93" stroke-dashoffset="-4.8"/>
</g>
<g clip-path="url(#cr)" fill="none" stroke-linejoin="round">
<path d="M457.35 987.65 L457.34 986.74 L457.33 985.83 L457.33 984.92 L457.32 984.02 L457.32 983.11 L457.32 982.2 L457.32 981.29 L457.32 980.38 L457.33 979.48 L457.33 978.57 L457.34 977.66 L457.35 976.76 L457.36 975.85 L457.37 974.95 L457.38 974.04 L457.39 973.14 L457.41 972.23 L457.43 971.33 L457.45 970.42 L457.47 969.52 L457.49 968.62 L457.51 967.71 L457.53 966.81 L457.56 965.91 L457.59 965 L457.61 964.1 L457.64 963.2 L457.68 962.3 L457.71 961.4 L457.74 960.5 L457.78 959.59 L457.81 958.69 L457.85 957.79 L457.89 956.89 L457.93 955.99 L457.97 955.09 L458.01 954.19 L458.05 953.29 L458.1 952.39 L458.14 951.49 L458.19 950.6 L458.23 949.7 L458.28 948.8 L458.33 947.9 L458.38 947 L458.43 946.1 L458.49 945.2 L458.54 944.31 L458.59 943.41 L458.65 942.51 L458.71 941.61 L458.76 940.72 L458.82 939.82 L458.88 938.92 L458.94 938.03 L459 937.13 L459.06 936.23 L459.13 935.34 L459.19 934.44 L459.26 933.54 L459.32 932.65 L459.39 931.75 L459.45 930.85 L459.52 929.96 L459.59 929.06 L459.66 928.17 L459.73 927.27 L459.8 926.38 L459.87 925.48 L459.94 924.58 L460.01 923.69 L460.09 922.79 L460.16 921.9 L460.23 921 L460.31 920.11 L460.38 919.21 L460.46 918.32 L460.54 917.42 L460.61 916.53 L460.69 915.63 L460.77 914.74 L460.85 913.84 L460.93 912.95 L461.01 912.05 L461.09 911.16 L461.17 910.26 L461.25 909.37 L461.33 908.47 L461.41 907.58 L461.49 906.68 L461.57 905.79 L461.66 904.89 L461.74 904 L461.82 903.1 L461.91 902.21 L461.99 901.31 L462.08 900.41 L462.16 899.52 L462.24 898.62 L462.33 897.73 L462.41 896.83 L462.5 895.94 L462.59 895.04 L462.67 894.14 L462.76 893.25 L462.84 892.35 L462.93 891.46 L463.01 890.56 L463.1 889.66 L463.19 888.77 L463.27 887.87 L463.36 886.97 L463.45 886.08 L463.53 885.18 L463.62 884.28 L463.71 883.39 L463.79 882.49 L463.88 881.59 L463.96 880.69 L464.05 879.8 L464.14 878.9 L464.22 878 L464.31 877.1 L464.39 876.2 L464.48 875.31 L464.57 874.41 L464.65 873.51 L464.74 872.61 L464.82 871.71 L464.91 870.81 L464.99 869.91 L465.07 869.01 L465.16 868.11 L465.24 867.21 L465.33 866.31 L465.41 865.41 L465.49 864.51 L465.58 863.61 L465.66 862.71 L465.74 861.81 L465.83 860.91 L465.91 860.01 L466 859.1 L466.08 858.2 L466.17 857.3 L466.25 856.4 L466.34 855.5 L466.42 854.6 L466.51 853.7 L466.59 852.8 L466.68 851.89 L466.77 850.99 L466.85 850.09 L466.94 849.19 L467.03 848.29 L467.12 847.39 L467.21 846.49 L467.3 845.59 L467.39 844.68 L467.48 843.78 L467.58 842.88 L467.67 841.98 L467.76 841.08 L467.86 840.18 L467.95 839.28 L468.05 838.38 L468.15 837.48 L468.25 836.58 L468.35 835.68 L468.45 834.78 L468.55 833.88 L468.65 832.99 L468.76 832.09 L468.86 831.19 L468.97 830.29 L469.08 829.39 L469.19 828.5 L469.3 827.6 L469.41 826.7 L469.53 825.81 L469.64 824.91 L469.76 824.01 L469.87 823.12 L469.99 822.22 L470.11 821.33 L470.24 820.43 L470.36 819.54 L470.49 818.64 L470.61 817.75 L470.74 816.86 L470.87 815.97 L471.01 815.07 L471.14 814.18 L471.28 813.29 L471.42 812.4 L471.56 811.51 L471.7 810.62 L471.84 809.73 L471.99 808.84 L472.14 807.95 L472.29 807.07 L472.44 806.18 L472.59 805.29 L472.75 804.41 L472.91 803.52 L473.07 802.63 L473.23 801.75 L473.4 800.87 L473.57 799.98 L473.74 799.1 L473.91 798.22 L474.09 797.34 L474.27 796.46 L474.45 795.58 L474.63 794.7 L474.81 793.82 L475 792.94 L475.19 792.06 L475.39 791.19 L475.58 790.31 L475.78 789.43 L475.98 788.56 L476.19 787.69 L476.4 786.81 L476.61 785.94 L476.82 785.07 L477.04 784.2 L477.26 783.33 L477.48 782.46 L477.7 781.59 L477.93 780.72 L478.16 779.86 L478.4 778.99 L478.64 778.13 L478.88 777.26 L479.12 776.4 L479.37 775.54 L479.62 774.68 L479.88 773.82 L480.13 772.96 L480.39 772.1 L480.66 771.24 L480.93 770.38 L481.2 769.53 L481.47 768.67 L481.75 767.82 L482.03 766.97 L482.32 766.11 L482.61 765.26 L482.9 764.41 L483.2 763.57 L483.5 762.72 L483.81 761.87 L484.12 761.03 L484.43 760.18 L484.74 759.34 L485.07 758.5 L485.39 757.65 L485.72 756.81 L486.05 755.97 L486.39 755.14 L486.73 754.3 L487.07 753.46 L487.42 752.63 L487.77 751.8 L488.13 750.97 L488.49 750.13 L488.86 749.3 L489.23 748.48 L489.61 747.65 L489.99 746.83 L490.37 746 L490.76 745.18 L491.16 744.37 L491.56 743.55 L491.97 742.74 L492.38 741.93 L492.8 741.13 L493.22 740.32 L493.65 739.53 L494.09 738.74 L494.54 737.95 L494.99 737.16 L495.45 736.39 L495.91 735.61 L496.39 734.84 L496.87 734.08 L497.36 733.33 L497.86 732.58 L498.36 731.83 L498.88 731.1 L499.4 730.37 L499.93 729.65 L500.47 728.93 L501.02 728.22 L501.58 727.52 L502.15 726.83 L502.73 726.15 L503.31 725.47 L503.91 724.81 L504.52 724.15 L505.14 723.5 L505.77 722.87 L506.41 722.24 L507.06 721.62 L507.72 721.01 L508.39 720.41 L509.08 719.83 L509.77 719.25 L510.48 718.69 L511.19 718.13 L511.92 717.59 L512.66 717.06 L513.4 716.54 L514.16 716.03 L514.92 715.54 L515.69 715.05 L516.47 714.58 L517.26 714.12 L518.05 713.67 L518.86 713.23 L519.66 712.8 L520.48 712.39 L521.3 711.99 L522.12 711.6 L522.95 711.23 L523.79 710.87 L524.63 710.51 L525.47 710.18 L526.32 709.85 L527.17 709.53 L528.03 709.23 L528.89 708.93 L529.76 708.65 L530.63 708.38 L531.5 708.12 L532.37 707.87 L533.25 707.63 L534.13 707.4 L535.01 707.18 L535.89 706.97 L536.78 706.77 L537.66 706.58 L538.55 706.4 L539.44 706.23 L540.34 706.07 L541.23 705.91 L542.12 705.77 L543.02 705.63 L543.91 705.51 L544.8 705.39 L545.7 705.28 L546.59 705.18 L547.49 705.08 L548.38 705 L549.27 704.92 L550.17 704.85 L551.06 704.78 L551.96 704.73 L552.85 704.68 L553.74 704.63 L554.63 704.6 L555.53 704.57 L556.42 704.55 L557.31 704.54 L558.21 704.53 L559.1 704.53 L559.99 704.53 L560.88 704.54 L561.78 704.56 L562.67 704.58 L563.56 704.61 L564.45 704.65 L565.34 704.69 L566.24 704.74 L567.13 704.79 L568.02 704.85 L568.91 704.91 L569.8 704.98 L570.69 705.05 L571.59 705.13 L572.48 705.21 L573.37 705.3 L574.26 705.39 L575.15 705.48 L576.04 705.58 L576.93 705.69 L577.82 705.8 L578.71 705.91 L579.6 706.03 L580.49 706.15 L581.39 706.27 L582.28 706.4 L583.17 706.53 L584.06 706.66 L584.95 706.8 L585.84 706.94 L586.73 707.08 L587.62 707.23 L588.51 707.38 L589.4 707.53 L590.29 707.68 L591.18 707.84 L592.07 708 L592.96 708.16 L593.85 708.32 L594.74 708.49 L595.63 708.65 L596.52 708.82 L597.41 708.99 L598.29 709.16 L599.18 709.33 L600.07 709.51 L600.96 709.68 L601.85 709.86 L602.74 710.04 L603.63 710.21 L604.52 710.39 L605.41 710.57 L606.3 710.75 L607.19 710.93 L608.08 711.11 L608.97 711.29 L609.86 711.47 L610.75 711.65 L611.63 711.83 L612.52 712.01 L613.41 712.19 L614.3 712.37 L615.19 712.54 L616.08 712.72 L616.97 712.9 L617.86 713.07 L618.75 713.25 L619.64 713.42 L620.53 713.59 L621.42 713.77 L622.3 713.94 L623.19 714.11 L624.08 714.28 L624.97 714.45 L625.86 714.62 L626.75 714.79 L627.64 714.95 L628.53 715.12 L629.42 715.28 L630.31 715.45 L631.2 715.61 L632.09 715.77 L632.98 715.94 L633.86 716.1 L634.75 716.26 L635.64 716.42 L636.53 716.58 L637.42 716.73 L638.31 716.89 L639.2 717.05 L640.09 717.2 L640.98 717.35 L641.87 717.51 L642.76 717.66 L643.65 717.81 L644.54 717.96 L645.43 718.11 L646.32 718.26 L647.21 718.4 L648.1 718.55 L648.99 718.69 L649.88 718.84 L650.77 718.98 L651.66 719.12 L652.55 719.26 L653.44 719.4 L654.33 719.54 L655.22 719.68 L656.11 719.81 L657 719.95 L657.89 720.08 L658.78 720.22 L659.67 720.35 L660.56 720.48 L661.45 720.61 L662.34 720.74 L663.23 720.86 L664.13 720.99 L665.02 721.12 L665.91 721.24 L666.8 721.36 L667.69 721.48 L668.58 721.6 L669.47 721.72 L670.36 721.84 L671.26 721.96 L672.15 722.07 L673.04 722.18 L673.93 722.3 L674.82 722.41 L675.72 722.52 L676.61 722.63 L677.5 722.73 L678.39 722.84 L679.28 722.95 L680.18 723.05 L681.07 723.15 L681.96 723.25 L682.85 723.35 L683.75 723.45 L684.64 723.55 L685.53 723.64 L686.43 723.74 L687.32 723.83 L688.21 723.92 L689.11 724.01 L690 724.1 L690.89 724.18 L691.79 724.27 L692.68 724.35 L693.58 724.44 L694.47 724.52 L695.37 724.6 L696.26 724.67 L697.15 724.75 L698.05 724.83 L698.94 724.9 L699.84 724.97 L700.73 725.04 L701.63 725.11 L702.52 725.18 L703.42 725.24 L704.32 725.31 L705.21 725.37 L706.11 725.43 L707 725.49 L707.9 725.55 L708.8 725.61 L709.69 725.66 L710.59 725.71 L711.49 725.77 L712.38 725.82 L713.28 725.86 L714.18 725.91 L715.08 725.96 L715.97 726.01 L716.87 726.05 L717.77 726.1 L718.67 726.14 L719.57 726.19 L720.47 726.23 L721.36 726.28 L722.26 726.32 L723.16 726.37 L724.06 726.41 L724.96 726.46 L725.86 726.5 L726.76 726.55 L727.67 726.6 L728.57 726.65 L729.47 726.7 L730.37 726.75 L731.27 726.81 L732.17 726.87 L733.08 726.92 L733.98 726.98 L734.88 727.05 L735.79 727.11 L736.69 727.18 L737.6 727.25 L738.5 727.32 L739.41 727.39 L740.31 727.47 L741.22 727.55 L742.13 727.64 L743.03 727.72 L743.94 727.82 L744.85 727.91 L745.76 728.01 L746.67 728.11 L747.58 728.22 L748.49 728.33 L749.4 728.45 L750.31 728.57 L751.22 728.69 L752.13 728.82 L753.04 728.96 L753.96 729.1 L754.86 729.25 L755.77 729.41 L756.67 729.57 L757.57 729.75 L758.47 729.94 L759.36 730.15 L760.24 730.37 L761.11 730.6 L761.98 730.85 L762.83 731.12 L763.68 731.4 L764.52 731.71 L765.34 732.03 L766.15 732.38 L766.95 732.75 L767.73 733.14 L768.5 733.56 L769.25 734 L769.99 734.47 L770.71 734.96 L771.42 735.47 L772.11 736 L772.78 736.56 L773.44 737.13 L774.08 737.73 L774.7 738.34 L775.3 738.98 L775.89 739.63 L776.46 740.3 L777.01 740.99 L777.54 741.69 L778.05 742.41 L778.55 743.15 L779.02 743.9 L779.48 744.66 L779.91 745.44 L780.33 746.23 L780.72 747.04 L781.1 747.85 L781.45 748.68 L781.78 749.51 L782.1 750.36 L782.39 751.22 L782.66 752.08 L782.92 752.95 L783.16 753.83 L783.38 754.72 L783.58 755.61 L783.78 756.51 L783.96 757.41 L784.13 758.31 L784.28 759.22 L784.43 760.13 L784.57 761.04 L784.7 761.96 L784.82 762.87 L784.93 763.79 L785.04 764.7 L785.15 765.61 L785.25 766.53 L785.35 767.44 L785.44 768.34 L785.53 769.25 L785.61 770.16 L785.69 771.07 L785.76 771.97 L785.84 772.88 L785.9 773.78 L785.97 774.68 L786.03 775.58 L786.09 776.49 L786.14 777.39 L786.2 778.29 L786.25 779.18 L786.29 780.08 L786.34 780.98 L786.38 781.88 L786.42 782.78 L786.46 783.67 L786.49 784.57 L786.53 785.46 L786.56 786.36 L786.59 787.25 L786.62 788.15 L786.65 789.04 L786.67 789.94 L786.7 790.83 L786.72 791.73 L786.74 792.62 L786.77 793.51 L786.79 794.41 L786.81 795.3 L786.83 796.2 L786.85 797.09 L786.87 797.99 L786.9 798.88 L786.92 799.77 L786.94 800.67 L786.96 801.56 L786.98 802.46 L787.01 803.36 L787.03 804.25 L787.06 805.15 L787.08 806.05 L787.11 806.94 L787.14 807.84 L787.17 808.74 L787.2 809.64 L787.24 810.54 L787.27 811.44 L787.31 812.34 L787.35 813.24 L787.4 814.15 L787.44 815.05 L787.49 815.95 L787.54 816.86 L787.59 817.76 L787.65 818.67 L787.71 819.58 L787.77 820.49 L787.83 821.4 L787.9 822.31" stroke="#ff0000" stroke-width="2"/>
<path d="M787.78 823.79 L787.69 822.89 L787.61 821.99 L787.53 821.09 L787.46 820.19 L787.39 819.29 L787.32 818.39 L787.26 817.48 L787.2 816.58 L787.15 815.68 L787.1 814.78 L787.06 813.88 L787.01 812.98 L786.98 812.08 L786.94 811.18 L786.91 810.28 L786.87 809.38 L786.84 808.48 L786.82 807.58 L786.79 806.68 L786.77 805.78 L786.74 804.88 L786.72 803.98 L786.7 803.08 L786.68 802.17 L786.66 801.27 L786.64 800.37 L786.62 799.47 L786.6 798.57 L786.58 797.67 L786.56 796.77 L786.54 795.87 L786.51 794.97 L786.49 794.07 L786.46 793.17 L786.43 792.27 L786.4 791.37 L786.37 790.47 L786.33 789.57 L786.3 788.67 L786.26 787.77 L786.21 786.87 L786.16 785.97 L786.11 785.07 L786.06 784.17 L786 783.27 L785.94 782.37 L785.87 781.47 L785.8 780.57 L785.72 779.67 L785.64 778.77 L785.55 777.87 L785.45 776.97 L785.36 776.07 L785.25 775.17 L785.14 774.27 L785.02 773.37 L784.9 772.47 L784.76 771.57 L784.62 770.67 L784.48 769.77 L784.32 768.87 L784.16 767.97 L783.99 767.07 L783.82 766.17 L783.63 765.27 L783.43 764.37 L783.23 763.47 L783.01 762.57 L782.78 761.68 L782.54 760.79 L782.28 759.91 L782.01 759.04 L781.72 758.18 L781.42 757.32 L781.1 756.48 L780.76 755.65 L780.39 754.83 L780.01 754.03 L779.6 753.24 L779.18 752.46 L778.72 751.71 L778.25 750.98 L777.74 750.26 L777.21 749.57 L776.65 748.89 L776.07 748.24 L775.47 747.61 L774.84 747 L774.19 746.41 L773.52 745.83 L772.83 745.28 L772.12 744.75 L771.39 744.24 L770.65 743.74 L769.89 743.27 L769.11 742.81 L768.32 742.37 L767.52 741.95 L766.71 741.55 L765.88 741.16 L765.05 740.8 L764.21 740.45 L763.36 740.11 L762.5 739.8 L761.64 739.5 L760.78 739.22 L759.91 738.95 L759.03 738.7 L758.16 738.47 L757.28 738.24 L756.4 738.04 L755.51 737.84 L754.63 737.66 L753.74 737.49 L752.85 737.33 L751.96 737.18 L751.07 737.04 L750.17 736.91 L749.27 736.79 L748.38 736.67 L747.48 736.57 L746.58 736.46 L745.68 736.36 L744.78 736.27 L743.87 736.18 L742.97 736.09 L742.07 736.01 L741.16 735.92 L740.26 735.84 L739.36 735.76 L738.46 735.67 L737.55 735.59 L736.65 735.5 L735.75 735.42 L734.85 735.33 L733.94 735.25 L733.04 735.16 L732.14 735.07 L731.24 734.98 L730.34 734.89 L729.44 734.8 L728.54 734.71 L727.64 734.62 L726.74 734.53 L725.84 734.44 L724.94 734.34 L724.04 734.25 L723.14 734.15 L722.24 734.06 L721.35 733.96 L720.45 733.86 L719.55 733.76 L718.65 733.66 L717.76 733.56 L716.86 733.46 L715.96 733.36 L715.06 733.26 L714.17 733.15 L713.27 733.04 L712.38 732.94 L711.48 732.83 L710.58 732.72 L709.69 732.61 L708.79 732.5 L707.9 732.39 L707.01 732.27 L706.11 732.16 L705.22 732.04 L704.32 731.93 L703.43 731.81 L702.54 731.69 L701.64 731.57 L700.75 731.44 L699.86 731.32 L698.97 731.2 L698.07 731.07 L697.18 730.94 L696.29 730.81 L695.4 730.68 L694.51 730.55 L693.62 730.42 L692.73 730.28 L691.83 730.15 L690.94 730.01 L690.05 729.87 L689.16 729.73 L688.28 729.59 L687.39 729.45 L686.5 729.3 L685.61 729.16 L684.72 729.01 L683.83 728.86 L682.94 728.71 L682.05 728.56 L681.17 728.41 L680.28 728.26 L679.39 728.1 L678.51 727.94 L677.62 727.79 L676.73 727.63 L675.85 727.47 L674.96 727.31 L674.07 727.15 L673.19 726.98 L672.3 726.82 L671.42 726.65 L670.53 726.48 L669.65 726.32 L668.76 726.15 L667.88 725.98 L666.99 725.8 L666.11 725.63 L665.22 725.46 L664.34 725.28 L663.46 725.11 L662.57 724.93 L661.69 724.75 L660.81 724.57 L659.92 724.39 L659.04 724.21 L658.16 724.02 L657.28 723.84 L656.39 723.65 L655.51 723.47 L654.63 723.28 L653.75 723.09 L652.87 722.9 L651.98 722.71 L651.1 722.52 L650.22 722.33 L649.34 722.14 L648.46 721.94 L647.58 721.75 L646.7 721.55 L645.82 721.36 L644.94 721.16 L644.06 720.96 L643.18 720.76 L642.3 720.56 L641.42 720.36 L640.54 720.15 L639.66 719.95 L638.78 719.75 L637.91 719.54 L637.03 719.34 L636.15 719.13 L635.27 718.92 L634.39 718.71 L633.51 718.5 L632.64 718.29 L631.76 718.08 L630.88 717.87 L630 717.66 L629.12 717.44 L628.25 717.23 L627.37 717.01 L626.49 716.8 L625.62 716.58 L624.74 716.37 L623.86 716.15 L622.99 715.93 L622.11 715.71 L621.23 715.49 L620.36 715.27 L619.48 715.05 L618.61 714.83 L617.73 714.6 L616.85 714.38 L615.98 714.16 L615.1 713.93 L614.23 713.71 L613.35 713.48 L612.48 713.25 L611.6 713.03 L610.73 712.8 L609.85 712.57 L608.98 712.34 L608.1 712.11 L607.23 711.88 L606.35 711.65 L605.48 711.42 L604.6 711.19 L603.73 710.96 L602.86 710.72 L601.98 710.49 L601.11 710.26 L600.23 710.02 L599.36 709.79 L598.49 709.55 L597.61 709.32 L596.74 709.08 L595.87 708.84 L594.99 708.61 L594.12 708.37 L593.25 708.13 L592.37 707.89 L591.5 707.65 L590.63 707.42 L589.75 707.18 L588.88 706.94 L588.01 706.7 L587.13 706.46 L586.26 706.22 L585.39 705.98 L584.51 705.75 L583.64 705.51 L582.77 705.27 L581.89 705.04 L581.02 704.8 L580.15 704.57 L579.27 704.34 L578.4 704.11 L577.53 703.88 L576.65 703.65 L575.78 703.43 L574.9 703.2 L574.03 702.98 L573.15 702.76 L572.28 702.54 L571.4 702.32 L570.52 702.11 L569.65 701.89 L568.77 701.68 L567.89 701.48 L567.02 701.27 L566.14 701.07 L565.26 700.87 L564.38 700.68 L563.5 700.48 L562.63 700.29 L561.75 700.11 L560.87 699.92 L559.99 699.74 L559.1 699.57 L558.22 699.39 L557.34 699.23 L556.46 699.06 L555.58 698.9 L554.69 698.74 L553.81 698.59 L552.92 698.44 L552.04 698.3 L551.15 698.16 L550.27 698.03 L549.38 697.9 L548.49 697.77 L547.6 697.66 L546.71 697.54 L545.82 697.44 L544.93 697.34 L544.04 697.25 L543.15 697.16 L542.26 697.09 L541.37 697.02 L540.48 696.96 L539.58 696.91 L538.69 696.87 L537.8 696.83 L536.9 696.81 L536.01 696.8 L535.11 696.8 L534.21 696.81 L533.32 696.83 L532.42 696.86 L531.52 696.91 L530.63 696.97 L529.73 697.04 L528.83 697.12 L527.93 697.22 L527.03 697.33 L526.13 697.46 L525.23 697.6 L524.33 697.76 L523.43 697.93 L522.53 698.11 L521.63 698.31 L520.73 698.53 L519.84 698.76 L518.94 699 L518.05 699.26 L517.16 699.54 L516.28 699.82 L515.4 700.13 L514.52 700.44 L513.65 700.77 L512.78 701.12 L511.92 701.47 L511.07 701.84 L510.22 702.23 L509.38 702.62 L508.55 703.03 L507.73 703.46 L506.91 703.89 L506.11 704.34 L505.31 704.8 L504.53 705.27 L503.76 705.76 L502.99 706.26 L502.24 706.77 L501.5 707.29 L500.78 707.82 L500.06 708.37 L499.36 708.92 L498.68 709.49 L498 710.07 L497.34 710.66 L496.69 711.26 L496.06 711.87 L495.44 712.5 L494.83 713.13 L494.23 713.77 L493.64 714.42 L493.07 715.08 L492.51 715.75 L491.96 716.43 L491.42 717.12 L490.89 717.82 L490.37 718.52 L489.86 719.24 L489.36 719.96 L488.88 720.69 L488.4 721.43 L487.93 722.17 L487.48 722.93 L487.03 723.69 L486.59 724.45 L486.16 725.23 L485.74 726.01 L485.33 726.79 L484.92 727.59 L484.53 728.39 L484.14 729.19 L483.76 730 L483.39 730.82 L483.02 731.64 L482.67 732.46 L482.32 733.29 L481.98 734.13 L481.64 734.97 L481.31 735.81 L480.99 736.66 L480.67 737.51 L480.36 738.37 L480.06 739.22 L479.76 740.09 L479.47 740.95 L479.18 741.82 L478.89 742.69 L478.62 743.56 L478.34 744.43 L478.07 745.31 L477.81 746.19 L477.55 747.07 L477.29 747.95 L477.04 748.83 L476.79 749.72 L476.54 750.6 L476.3 751.48 L476.06 752.37 L475.83 753.25 L475.59 754.14 L475.36 755.03 L475.13 755.91 L474.91 756.8 L474.68 757.68 L474.46 758.57 L474.24 759.46 L474.03 760.34 L473.82 761.23 L473.61 762.12 L473.4 763 L473.19 763.89 L472.99 764.78 L472.79 765.67 L472.59 766.55 L472.4 767.44 L472.2 768.33 L472.01 769.22 L471.83 770.11 L471.64 770.99 L471.46 771.88 L471.28 772.77 L471.1 773.66 L470.92 774.55 L470.75 775.44 L470.57 776.33 L470.4 777.22 L470.24 778.11 L470.07 779 L469.91 779.89 L469.75 780.77 L469.59 781.66 L469.43 782.56 L469.28 783.45 L469.12 784.34 L468.97 785.23 L468.82 786.12 L468.68 787.01 L468.53 787.9 L468.39 788.79 L468.25 789.68 L468.11 790.57 L467.97 791.46 L467.84 792.36 L467.7 793.25 L467.57 794.14 L467.44 795.03 L467.31 795.92 L467.19 796.82 L467.06 797.71 L466.94 798.6 L466.82 799.49 L466.7 800.39 L466.58 801.28 L466.46 802.17 L466.35 803.06 L466.24 803.96 L466.13 804.85 L466.02 805.74 L465.91 806.64 L465.8 807.53 L465.7 808.43 L465.59 809.32 L465.49 810.21 L465.39 811.11 L465.29 812 L465.19 812.9 L465.09 813.79 L465 814.68 L464.9 815.58 L464.81 816.47 L464.72 817.37 L464.63 818.26 L464.54 819.16 L464.45 820.05 L464.37 820.95 L464.28 821.85 L464.2 822.74 L464.11 823.64 L464.03 824.53 L463.95 825.43 L463.87 826.32 L463.79 827.22 L463.71 828.12 L463.64 829.01 L463.56 829.91 L463.49 830.81 L463.41 831.7 L463.34 832.6 L463.27 833.5 L463.2 834.39 L463.13 835.29 L463.06 836.19 L462.99 837.08 L462.92 837.98 L462.85 838.88 L462.79 839.78 L462.72 840.67 L462.66 841.57 L462.59 842.47 L462.53 843.37 L462.47 844.27 L462.41 845.16 L462.34 846.06 L462.28 846.96 L462.22 847.86 L462.16 848.76 L462.1 849.66 L462.05 850.55 L461.99 851.45 L461.93 852.35 L461.87 853.25 L461.82 854.15 L461.76 855.05 L461.7 855.95 L461.65 856.85 L461.59 857.75 L461.54 858.65 L461.48 859.55 L461.43 860.45 L461.38 861.35 L461.32 862.24 L461.27 863.14 L461.22 864.04 L461.16 864.94 L461.11 865.84 L461.06 866.75 L461 867.65 L460.95 868.55 L460.9 869.45 L460.85 870.35 L460.79 871.25 L460.74 872.15 L460.69 873.05 L460.64 873.95 L460.59 874.85 L460.53 875.75 L460.48 876.65 L460.43 877.55 L460.38 878.45 L460.33 879.36 L460.28 880.26 L460.22 881.16 L460.17 882.06 L460.12 882.96 L460.07 883.86 L460.02 884.76 L459.97 885.67 L459.92 886.57 L459.87 887.47 L459.82 888.37 L459.76 889.27 L459.71 890.17 L459.66 891.08 L459.61 891.98 L459.56 892.88 L459.51 893.78 L459.46 894.68 L459.42 895.59 L459.37 896.49 L459.32 897.39 L459.27 898.29 L459.22 899.2 L459.17 900.1 L459.12 901 L459.07 901.9 L459.03 902.8 L458.98 903.71 L458.93 904.61 L458.88 905.51 L458.84 906.41 L458.79 907.32 L458.74 908.22 L458.7 909.12 L458.65 910.02 L458.61 910.93 L458.56 911.83 L458.51 912.73 L458.47 913.64 L458.42 914.54 L458.38 915.44 L458.34 916.34 L458.29 917.25 L458.25 918.15 L458.2 919.05 L458.16 919.95 L458.12 920.86 L458.08 921.76 L458.03 922.66 L457.99 923.57 L457.95 924.47 L457.91 925.37 L457.87 926.27 L457.83 927.18 L457.79 928.08 L457.75 928.98 L457.71 929.88 L457.67 930.79 L457.63 931.69 L457.59 932.59 L457.55 933.5 L457.52 934.4 L457.48 935.3 L457.44 936.2 L457.41 937.11 L457.37 938.01 L457.33 938.91 L457.3 939.81 L457.26 940.72 L457.23 941.62 L457.19 942.52 L457.16 943.42 L457.13 944.33 L457.09 945.23 L457.06 946.13 L457.03 947.03 L457 947.94 L456.97 948.84 L456.94 949.74 L456.91 950.64 L456.88 951.54 L456.85 952.45 L456.82 953.35 L456.79 954.25 L456.76 955.15 L456.74 956.05 L456.71 956.96 L456.68 957.86 L456.66 958.76 L456.63 959.66 L456.61 960.56 L456.58 961.47 L456.56 962.37 L456.54 963.27 L456.51 964.17 L456.49 965.07 L456.47 965.97 L456.45 966.87 L456.43 967.77 L456.41 968.68 L456.39 969.58 L456.37 970.48 L456.35 971.38 L456.34 972.28 L456.32 973.18 L456.3 974.08 L456.29 974.98 L456.27 975.88 L456.26 976.78 L456.24 977.68 L456.23 978.58 L456.22 979.48 L456.2 980.38 L456.19 981.28 L456.18 982.18 L456.17 983.08 L456.16 983.98 L456.15 984.88 L456.14 985.78 L456.14 986.68 L456.13 987.58" stroke="#0000ff" stroke-width="2" stroke-dasharray="8.1 7.75" stroke-dashoffset="4.5"/>
<path d="M452.3 669.78 L453.14 670.35 L453.99 670.92 L454.83 671.49 L455.67 672.06 L456.52 672.63 L457.36 673.19 L458.2 673.75 L459.05 674.31 L459.89 674.88 L460.73 675.43 L461.58 675.99 L462.42 676.55 L463.26 677.1 L464.11 677.65 L464.95 678.21 L465.79 678.76 L466.63 679.31 L467.48 679.85 L468.32 680.4 L469.16 680.94 L470.01 681.49 L470.85 682.03 L471.69 682.57 L472.54 683.11 L473.38 683.64 L474.22 684.18 L475.07 684.71 L475.91 685.25 L476.75 685.78 L477.6 686.31 L478.44 686.84 L479.28 687.37 L480.13 687.89 L480.97 688.42 L481.81 688.94 L482.66 689.46 L483.5 689.98 L484.34 690.5 L485.19 691.02 L486.03 691.53 L486.87 692.05 L487.72 692.56 L488.56 693.07 L489.4 693.58 L490.25 694.09 L491.09 694.6 L491.93 695.1 L492.78 695.61 L493.62 696.11 L494.46 696.61 L495.3 697.11 L496.15 697.61 L496.99 698.11 L497.83 698.6 L498.68 699.1 L499.52 699.59 L500.36 700.08 L501.21 700.57 L502.05 701.06 L502.89 701.55 L503.74 702.03 L504.58 702.52 L505.42 703 L506.27 703.48 L507.11 703.96 L507.95 704.44 L508.8 704.92 L509.64 705.39 L510.48 705.87 L511.33 706.34 L512.17 706.81 L513.01 707.28 L513.86 707.75 L514.7 708.22 L515.54 708.68 L516.39 709.15 L517.23 709.61 L518.07 710.07 L518.92 710.53 L519.76 710.99 L520.6 711.44 L521.45 711.9 L522.29 712.35 L523.13 712.81 L523.97 713.26 L524.82 713.71 L525.66 714.16 L526.5 714.6 L527.35 715.05 L528.19 715.49 L529.03 715.94 L529.88 716.38 L530.72 716.82 L531.56 717.25 L532.41 717.69 L533.25 718.13 L534.09 718.56 L534.94 718.99 L535.78 719.43 L536.62 719.85 L537.47 720.28 L538.31 720.71 L539.15 721.14 L540 721.56 L540.84 721.98 L541.68 722.4 L542.53 722.82 L543.37 723.24 L544.21 723.66 L545.06 724.07 L545.9 724.49 L546.74 724.9 L547.59 725.31 L548.43 725.72 L549.27 726.13 L550.12 726.54 L550.96 726.94 L551.8 727.34 L552.64 727.75 L553.49 728.15 L554.33 728.55 L555.17 728.95 L556.02 729.34 L556.86 729.74 L557.7 730.13 L558.55 730.52 L559.39 730.91 L560.23 731.3 L561.08 731.69 L561.92 732.08 L562.76 732.46 L563.61 732.85 L564.45 733.23 L565.29 733.61 L566.14 733.99 L566.98 734.37 L567.82 734.75 L568.67 735.12 L569.51 735.49 L570.35 735.87 L571.2 736.24 L572.04 736.61 L572.88 736.98 L573.73 737.34 L574.57 737.71 L575.41 738.07 L576.26 738.43 L577.1 738.79 L577.94 739.15 L578.78 739.51 L579.63 739.87 L580.47 740.22 L581.31 740.58 L582.16 740.93 L583 741.28 L583.84 741.63 L584.69 741.98 L585.53 742.32 L586.37 742.67 L587.22 743.01 L588.06 743.35 L588.9 743.7 L589.75 744.03 L590.59 744.37 L591.43 744.71 L592.28 745.04 L593.12 745.38 L593.96 745.71 L594.81 746.04 L595.65 746.37 L596.49 746.7 L597.34 747.02 L598.18 747.35 L599.02 747.67 L599.87 747.99 L600.71 748.32 L601.55 748.63 L602.4 748.95 L603.24 749.27 L604.08 749.58 L604.93 749.9 L605.77 750.21 L606.61 750.52 L607.45 750.83 L608.3 751.14 L609.14 751.44 L609.98 751.75 L610.83 752.05 L611.67 752.35 L612.51 752.65 L613.36 752.95 L614.2 753.25 L615.04 753.55 L615.89 753.84 L616.73 754.14 L617.57 754.43 L618.42 754.72 L619.26 755.01 L620.1 755.29 L620.95 755.58 L621.79 755.87 L622.63 756.15 L623.48 756.43 L624.32 756.71 L625.16 756.99 L626.01 757.27 L626.85 757.54 L627.69 757.82 L628.54 758.09 L629.38 758.36 L630.22 758.63 L631.07 758.9 L631.91 759.17 L632.75 759.44 L633.6 759.7 L634.44 759.97 L635.28 760.23 L636.12 760.49 L636.97 760.75 L637.81 761 L638.65 761.26 L639.5 761.52 L640.34 761.77 L641.18 762.02 L642.03 762.27 L642.87 762.52 L643.71 762.77 L644.56 763.01 L645.4 763.26 L646.24 763.5 L647.09 763.74 L647.93 763.98 L648.77 764.22 L649.62 764.46 L650.46 764.7 L651.3 764.93 L652.15 765.16 L652.99 765.39 L653.83 765.63 L654.68 765.85 L655.52 766.08 L656.36 766.31 L657.21 766.53 L658.05 766.76 L658.89 766.98 L659.74 767.2 L660.58 767.42 L661.42 767.63 L662.27 767.85 L663.11 768.06 L663.95 768.28 L664.79 768.49 L665.64 768.7 L666.48 768.91 L667.32 769.11 L668.17 769.32 L669.01 769.52 L669.85 769.73 L670.7 769.93 L671.54 770.13 L672.38 770.33 L673.23 770.53 L674.07 770.72 L674.91 770.92 L675.76 771.11 L676.6 771.3 L677.44 771.49 L678.29 771.68 L679.13 771.87 L679.97 772.05 L680.82 772.24 L681.66 772.42 L682.5 772.6 L683.35 772.78 L684.19 772.96 L685.03 773.14 L685.88 773.31 L686.72 773.49 L687.56 773.66 L688.41 773.83 L689.25 774 L690.09 774.17 L690.93 774.34 L691.78 774.5 L692.62 774.67 L693.46 774.83 L694.31 774.99 L695.15 775.15 L695.99 775.31 L696.84 775.47 L697.68 775.62 L698.52 775.78 L699.37 775.93 L700.21 776.08 L701.05 776.23 L701.9 776.38 L702.74 776.53 L703.58 776.67 L704.43 776.82 L705.27 776.96 L706.11 777.1 L706.96 777.24 L707.8 777.38 L708.64 777.52 L709.49 777.65 L710.33 777.79 L711.17 777.92 L712.02 778.05 L712.86 778.18 L713.7 778.31 L714.55 778.43 L715.39 778.56 L716.23 778.68 L717.08 778.81 L717.92 778.93 L718.76 779.05 L719.6 779.17 L720.45 779.28 L721.29 779.4 L722.13 779.51 L722.98 779.63 L723.82 779.74 L724.66 779.85 L725.51 779.96 L726.35 780.06 L727.19 780.17 L728.04 780.27 L728.88 780.37 L729.72 780.48 L730.57 780.57 L731.41 780.67 L732.25 780.77 L733.1 780.87 L733.94 780.96 L734.78 781.05 L735.63 781.14 L736.47 781.23 L737.31 781.32 L738.16 781.41 L739 781.49 L739.84 781.58 L740.69 781.66 L741.53 781.74 L742.37 781.82 L743.22 781.9 L744.06 781.98 L744.9 782.05 L745.75 782.12 L746.59 782.2 L747.43 782.27 L748.27 782.34 L749.12 782.41 L749.96 782.47 L750.8 782.54 L751.65 782.6 L752.49 782.66 L753.33 782.72 L754.18 782.78 L755.02 782.84 L755.86 782.9 L756.71 782.95 L757.55 783.01 L758.39 783.06 L759.24 783.11 L760.08 783.16 L760.92 783.21 L761.77 783.26 L762.61 783.3 L763.45 783.34 L764.3 783.39 L765.14 783.43 L765.98 783.47 L766.83 783.51 L767.67 783.54 L768.51 783.58 L769.36 783.61 L770.2 783.64 L771.04 783.67 L771.89 783.7 L772.73 783.73 L773.57 783.76 L774.42 783.78 L775.26 783.81 L776.1 783.83 L776.94 783.85 L777.79 783.87 L778.63 783.89 L779.47 783.9 L780.32 783.92 L781.16 783.93 L782 783.94 L782.85 783.96 L783.69 783.96 L784.53 783.97 L785.38 783.98 L786.22 783.98 L787.06 783.99 L787.91 783.99 L788.75 783.99" stroke="#000000" stroke-width="2.85" stroke-linecap="round" stroke-dasharray="0.01 7.93" stroke-dashoffset="-4.8"/>
</g>
<g font-family="'Liberation Serif', serif" font-size="20" fill="#000">
<text x="56.15" y="1016.4" text-anchor="middle">0</text>
<text x="123.43" y="1016.4" text-anchor="middle">0.2</text>
<text x="190.71" y="1016.4" text-anchor="middle">0.4</text>
<text x="257.99" y="1016.4" text-anchor="middle">0.6</text>
<text x="325.27" y="1016.4" text-anchor="middle">0.8</text>
<text x="392.55" y="1016.4" text-anchor="middle">1</text>
<text x="452.3" y="1016.4" text-anchor="middle">0</text>
<text x="519.59" y="1016.4" text-anchor="middle">0.2</text>
<text x="586.88" y="1016.4" text-anchor="middle">0.4</text>
<text x="654.17" y="1016.4" text-anchor="middle">0.6</text>
<text x="721.46" y="1016.4" text-anchor="middle">0.8</text>
<text x="788.75" y="1016.4" text-anchor="middle">1</text>
<text x="47.15" y="994.6" text-anchor="end">-0.02</text>
<text x="47.15" y="930.53" text-anchor="end">0</text>
<text x="47.15" y="866.46" text-anchor="end">0.02</text>
<text x="47.15" y="802.39" text-anchor="end">0.04</text>
<text x="47.15" y="738.31" text-anchor="end">0.06</text>
<text x="47.15" y="674.24" text-anchor="end">0.08</text>
<text x="47.15" y="610.17" text-anchor="end">0.1</text>
<text x="47.15" y="546.1" text-anchor="end">0.12</text>
<text x="443.1" y="994.7" text-anchor="end">-0.02</text>
<text x="443.1" y="905" text-anchor="end">0</text>
<text x="443.1" y="815.3" text-anchor="end">0.02</text>
<text x="443.1" y="725.6" text-anchor="end">0.04</text>
<text x="443.1" y="635.9" text-anchor="end">0.06</text>
<text x="443.1" y="546.2" text-anchor="end">0.08</text>
</g>
<g font-family="'Liberation Serif', serif" fill="#000">
<text x="224.1" y="1039.6" font-size="29.5" text-anchor="middle">x</text>
<text x="620.3" y="1039.6" font-size="29.5" text-anchor="middle">x</text>
<text font-size="28"><tspan x="130.3" y="613.6">xP</tspan><tspan x="160.7" y="598.2" font-size="19.8">T</tspan><tspan x="158.4" y="620" font-size="19.8">qg</tspan><tspan x="181.1" y="613.6">(x)</tspan></text>
<text font-size="28"><tspan x="526.3" y="611.8">xP</tspan><tspan x="556.7" y="596.4" font-size="19.8">T</tspan><tspan x="554.4" y="618.2" font-size="19.8">gq</tspan><tspan x="577.1" y="611.8">(x)</tspan></text>
<path d="M125.9 667.7H164" stroke="#000" stroke-width="2.85" stroke-linecap="round" stroke-dasharray="0.01 8.74" fill="none"/>
<path d="M123.1 706.1H164" stroke="#0000ff" stroke-width="2" stroke-dasharray="8.1 7.75" fill="none"/>
<path d="M123.1 741.05H164" stroke="#ff0000" stroke-width="2.1" fill="none"/>
<text x="177" y="675.2" font-size="21.4">LO</text>
<text x="177" y="713.7" font-size="21.4">NLO</text>
<text x="177" y="751" font-size="21.4">NNLO</text>
<path d="M522 819.85H560" stroke="#000" stroke-width="2.85" stroke-linecap="round" stroke-dasharray="0.01 8.74" fill="none"/>
<path d="M519 857.7H560" stroke="#0000ff" stroke-width="2" stroke-dasharray="8.1 7.75" fill="none"/>
<path d="M519 895.85H560" stroke="#ff0000" stroke-width="2.1" fill="none"/>
<text x="572.8" y="827.1" font-size="21.4">LO</text>
<text x="572.8" y="865.3" font-size="21.4">NLO</text>
<text x="572.8" y="903" font-size="21.4">NNLO</text>
<g fill="none">
<path d="M123.1 747.8H164" stroke="#0a8a0a" stroke-width="1.15" stroke-dasharray="8 7.8"/>
<path d="M123.1 747.8H164" stroke="#0a8a0a" stroke-width="2.1" stroke-linecap="round" stroke-dasharray="0.3 15.5" stroke-dashoffset="-11.9"/>
</g>
<text transform="translate(190.3,957.8) scale(1.14,1)" font-size="26.4">α</text>
<text font-size="23"><tspan x="205.6" y="966" font-size="16.5">S</tspan><tspan x="220.2" y="957.8">=</tspan><tspan x="239.6" y="957.8">0.12,</tspan><tspan x="299" y="957.8">N</tspan><tspan x="316.3" y="966" font-size="16.5">f</tspan><tspan x="327.2" y="957.8">=</tspan><tspan x="347" y="957.8">5</tspan></text>
</g>
</svg>
</body></html>
